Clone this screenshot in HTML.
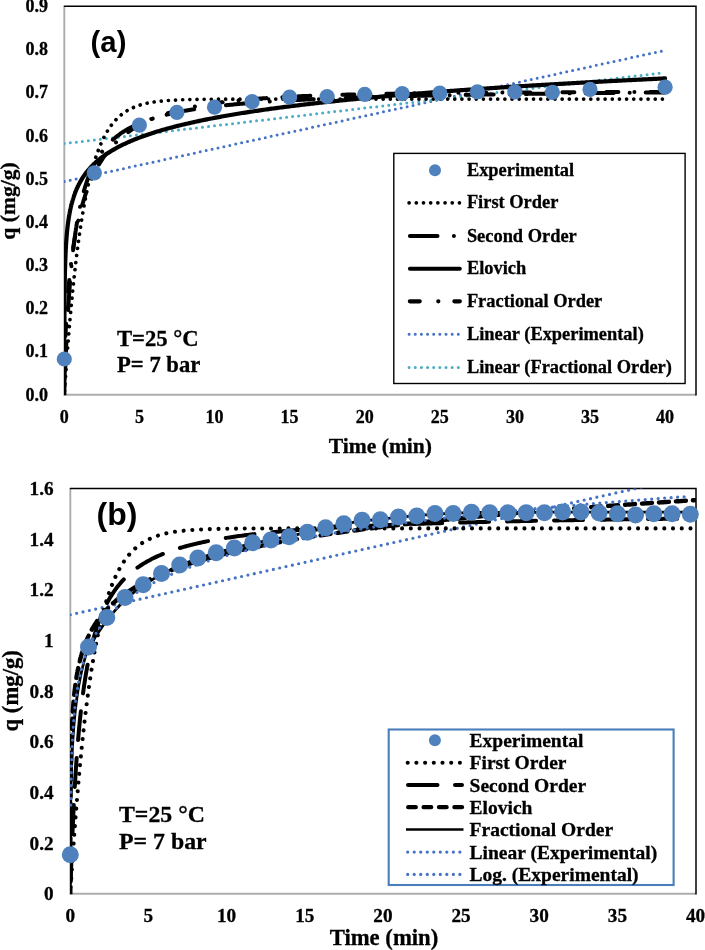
<!DOCTYPE html>
<html lang="en"><head><meta charset="utf-8"><title>Adsorption kinetics</title>
<style>
html,body{margin:0;padding:0;background:#fff;}
body{width:705px;height:950px;overflow:hidden;}
svg{display:block;}
text{font-family:"Liberation Serif",serif;font-weight:bold;fill:#000;stroke:#000;stroke-width:.3px;}
.tk{font-size:18px;}
.tkb{font-size:19.2px;}
.ti{font-size:21.6px;}
.tib{font-size:22.7px;}
.lab{font-family:"Liberation Sans",sans-serif;font-size:28.8px;font-weight:bold;stroke:none;}
.cond{font-size:22.65px;}
.condb{font-size:23.8px;}
.lg{font-size:18.4px;}
.lgb{font-size:19.5px;}
.k{fill:none;stroke:#000;stroke-linejoin:round;}
.rc{stroke-linecap:round;}
.dot{fill:none;stroke:#000;stroke-width:3.7;stroke-linecap:round;stroke-dasharray:0.01 7.15;stroke-linejoin:round;}
.bd{fill:none;stroke-width:3.0;stroke-linecap:round;}
.bb{stroke-width:3.2;}
</style></head>
<body>
<svg width="705" height="950" viewBox="0 0 705 950">
<rect width="705" height="950" fill="#fff"/>
<g id="chartA">
<clipPath id="clipA"><rect x="64.0" y="6.3" width="631.7" height="389.0"/></clipPath>
<path d="M64.3,6.3 V394.8 H696.0" fill="none" stroke="#adadad" stroke-width="1.9"/>
<path d="M63.8,6.3 H696.0 V395.40000000000003" fill="none" stroke="#000" stroke-width="1.5"/>
<g clip-path="url(#clipA)">
<path d="M64.30,181.56h.01 M70.21,180.27h.01 M76.12,178.97h.01 M82.03,177.68h.01 M87.94,176.39h.01 M93.85,175.10h.01 M99.76,173.81h.01 M105.67,172.52h.01 M111.59,171.23h.01 M117.50,169.94h.01 M123.41,168.65h.01 M129.32,167.36h.01 M135.23,166.06h.01 M141.14,164.77h.01 M147.05,163.48h.01 M152.96,162.19h.01 M158.87,160.90h.01 M164.78,159.61h.01 M170.69,158.32h.01 M176.60,157.03h.01 M182.51,155.74h.01 M188.42,154.45h.01 M194.33,153.15h.01 M200.24,151.86h.01 M206.16,150.57h.01 M212.07,149.28h.01 M217.98,147.99h.01 M223.89,146.70h.01 M229.80,145.41h.01 M235.71,144.12h.01 M241.62,142.83h.01 M247.53,141.54h.01 M253.44,140.24h.01 M259.35,138.95h.01 M265.26,137.66h.01 M271.17,136.37h.01 M277.08,135.08h.01 M282.99,133.79h.01 M288.90,132.50h.01 M294.82,131.21h.01 M300.73,129.92h.01 M306.64,128.63h.01 M312.55,127.33h.01 M318.46,126.04h.01 M324.37,124.75h.01 M330.28,123.46h.01 M336.19,122.17h.01 M342.10,120.88h.01 M348.01,119.59h.01 M353.92,118.30h.01 M359.83,117.01h.01 M365.74,115.72h.01 M371.65,114.42h.01 M377.56,113.13h.01 M383.48,111.84h.01 M389.39,110.55h.01 M395.30,109.26h.01 M401.21,107.97h.01 M407.12,106.68h.01 M413.03,105.39h.01 M418.94,104.10h.01 M424.85,102.81h.01 M430.76,101.51h.01 M436.67,100.22h.01 M442.58,98.93h.01 M448.49,97.64h.01 M454.40,96.35h.01 M460.31,95.06h.01 M466.22,93.77h.01 M472.13,92.48h.01 M478.05,91.19h.01 M483.96,89.90h.01 M489.87,88.60h.01 M495.78,87.31h.01 M501.69,86.02h.01 M507.60,84.73h.01 M513.51,83.44h.01 M519.42,82.15h.01 M525.33,80.86h.01 M531.24,79.57h.01 M537.15,78.28h.01 M543.06,76.99h.01 M548.97,75.69h.01 M554.88,74.40h.01 M560.79,73.11h.01 M566.71,71.82h.01 M572.62,70.53h.01 M578.53,69.24h.01 M584.44,67.95h.01 M590.35,66.66h.01 M596.26,65.37h.01 M602.17,64.08h.01 M608.08,62.78h.01 M613.99,61.49h.01 M619.90,60.20h.01 M625.81,58.91h.01 M631.72,57.62h.01 M637.63,56.33h.01 M643.54,55.04h.01 M649.45,53.75h.01 M655.37,52.46h.01 M661.28,51.17h.01" class="bd" stroke="#4472c4"/>
<path d="M64.30,143.57h.01 M70.31,142.86h.01 M76.32,142.15h.01 M82.32,141.44h.01 M88.33,140.73h.01 M94.34,140.02h.01 M100.35,139.31h.01 M106.36,138.60h.01 M112.37,137.89h.01 M118.37,137.18h.01 M124.38,136.47h.01 M130.39,135.76h.01 M136.40,135.05h.01 M142.41,134.34h.01 M148.41,133.63h.01 M154.42,132.92h.01 M160.43,132.21h.01 M166.44,131.50h.01 M172.45,130.79h.01 M178.46,130.08h.01 M184.46,129.37h.01 M190.47,128.66h.01 M196.48,127.95h.01 M202.49,127.24h.01 M208.50,126.53h.01 M214.50,125.82h.01 M220.51,125.11h.01 M226.52,124.40h.01 M232.53,123.69h.01 M238.54,122.98h.01 M244.55,122.27h.01 M250.55,121.56h.01 M256.56,120.85h.01 M262.57,120.14h.01 M268.58,119.43h.01 M274.59,118.72h.01 M280.59,118.01h.01 M286.60,117.30h.01 M292.61,116.59h.01 M298.62,115.88h.01 M304.63,115.17h.01 M310.64,114.46h.01 M316.64,113.75h.01 M322.65,113.04h.01 M328.66,112.33h.01 M334.67,111.61h.01 M340.68,110.90h.01 M346.68,110.19h.01 M352.69,109.48h.01 M358.70,108.77h.01 M364.71,108.06h.01 M370.72,107.35h.01 M376.73,106.64h.01 M382.73,105.93h.01 M388.74,105.22h.01 M394.75,104.51h.01 M400.76,103.80h.01 M406.77,103.09h.01 M412.77,102.38h.01 M418.78,101.67h.01 M424.79,100.96h.01 M430.80,100.25h.01 M436.81,99.54h.01 M442.82,98.83h.01 M448.82,98.12h.01 M454.83,97.41h.01 M460.84,96.70h.01 M466.85,95.99h.01 M472.86,95.28h.01 M478.86,94.57h.01 M484.87,93.86h.01 M490.88,93.15h.01 M496.89,92.44h.01 M502.90,91.73h.01 M508.91,91.02h.01 M514.91,90.31h.01 M520.92,89.60h.01 M526.93,88.89h.01 M532.94,88.18h.01 M538.95,87.47h.01 M544.95,86.76h.01 M550.96,86.05h.01 M556.97,85.34h.01 M562.98,84.63h.01 M568.99,83.92h.01 M575.00,83.21h.01 M581.00,82.50h.01 M587.01,81.79h.01 M593.02,81.08h.01 M599.03,80.37h.01 M605.04,79.66h.01 M611.04,78.95h.01 M617.05,78.24h.01 M623.06,77.53h.01 M629.07,76.82h.01 M635.08,76.11h.01 M641.09,75.40h.01 M647.09,74.69h.01 M653.10,73.98h.01 M659.11,73.27h.01" class="bd" stroke="#4bacc6"/>
<path d="M64.30,394.80 L64.38,393.65 L64.45,392.51 L64.53,391.37 L64.60,390.23 L64.68,389.10 L64.75,387.97 L64.83,386.85 L64.90,385.73 L64.98,384.62 L65.05,383.51 L65.13,382.40 L65.21,381.30 L65.28,380.20 L65.36,379.11 L65.43,378.02 L65.51,376.94 L65.58,375.86 L65.66,374.78 L65.73,373.71 L65.81,372.64 L65.89,371.58 L65.96,370.52 L66.04,369.47 L66.11,368.41 L66.19,367.37 L66.26,366.33 L66.34,365.29 L66.41,364.25 L66.49,363.22 L66.56,362.19 L66.64,361.17 L66.72,360.15 L66.79,359.14 L66.87,358.13 L66.94,357.12 L67.02,356.12 L67.09,355.12 L67.17,354.12 L67.24,353.13 L67.32,352.15 L67.39,351.16 L67.47,350.18 L67.55,349.21 L67.62,348.23 L67.70,347.27 L67.77,346.30 L67.85,345.34 L67.92,344.38 L68.00,343.43 L68.07,342.48 L68.15,341.53 L68.22,340.59 L68.30,339.65 L68.38,338.72 L68.45,337.79 L68.53,336.86 L68.60,335.94 L68.68,335.02 L68.75,334.10 L68.83,333.19 L68.90,332.28 L68.98,331.37 L69.06,330.47 L69.13,329.57 L69.21,328.67 L69.28,327.78 L69.36,326.89 L69.43,326.00 L69.51,325.12 L69.58,324.24 L69.66,323.37 L69.73,322.50 L69.81,321.63 L69.89,320.76 L69.96,319.90 L70.04,319.04 L70.11,318.19 L70.19,317.34 L70.26,316.49 L70.34,315.64 L70.41,314.80 L70.49,313.96 L70.56,313.13 L70.64,312.30 L70.72,311.47 L70.79,310.64 L70.87,309.82 L70.94,309.00 L71.02,308.19 L71.09,307.37 L71.17,306.56 L71.24,305.76 L71.32,304.95 L71.39,304.15 L71.47,303.36 L71.55,302.56 L71.62,301.77 L71.70,300.99 L71.77,300.20 L71.85,299.42 L71.92,298.64 L72.00,297.86 L72.07,297.09 L72.15,296.32 L72.23,295.56 L72.30,294.79 L72.38,294.03 L72.45,293.27 L72.53,292.52 L72.60,291.77 L72.68,291.02 L72.75,290.27 L72.83,289.53 L72.90,288.79 L72.98,288.05 L73.06,287.32 L73.13,286.59 L73.21,285.86 L73.28,285.13 L73.36,284.41 L73.43,283.69 L73.51,282.97 L73.58,282.26 L73.66,281.54 L73.73,280.84 L73.81,280.13 L73.89,279.43 L73.96,278.72 L74.04,278.03 L74.11,277.33 L74.19,276.64 L74.26,275.95 L74.34,275.26 L74.41,274.58 L74.49,273.89 L74.56,273.22 L74.64,272.54 L74.72,271.86 L74.79,271.19 L74.87,270.52 L74.94,269.86 L75.02,269.19 L75.09,268.53 L75.17,267.87 L75.24,267.22 L75.32,266.56 L75.40,265.91 L75.47,265.27 L75.55,264.62 L75.62,263.98 L75.70,263.34 L75.77,262.70 L75.85,262.06 L75.92,261.43 L76.00,260.80 L76.07,260.17 L76.15,259.54 L76.23,258.92 L76.30,258.30 L76.38,257.68 L76.45,257.06 L76.53,256.45 L76.60,255.84 L76.68,255.23 L76.75,254.62 L76.83,254.02 L76.90,253.41 L76.98,252.81 L77.06,252.22 L77.13,251.62 L77.21,251.03 L77.28,250.44 L77.36,249.85 L77.43,249.26 L77.51,248.68 L77.58,248.10 L77.66,247.52 L77.73,246.94 L77.81,246.37 L77.89,245.80 L77.96,245.23 L78.04,244.66 L78.11,244.09 L78.19,243.53 L78.26,242.97 L78.34,242.41 L78.41,241.85 L78.49,241.30 L78.57,240.74 L78.64,240.19 L78.72,239.65 L78.79,239.10 L78.87,238.56 L78.94,238.01 L79.02,237.47 L79.09,236.94 L79.17,236.40 L79.24,235.87 L79.32,235.33 L80.79,225.40 L82.26,216.18 L83.72,207.64 L85.19,199.72 L86.66,192.38 L88.13,185.58 L89.60,179.27 L91.06,173.42 L92.53,168.00 L94.00,162.98 L95.47,158.32 L96.94,154.00 L98.41,149.99 L99.87,146.28 L101.34,142.84 L102.81,139.65 L104.28,136.69 L105.75,133.95 L107.21,131.41 L108.68,129.05 L110.15,126.87 L111.62,124.84 L113.09,122.96 L114.55,121.22 L116.02,119.61 L117.49,118.11 L118.96,116.73 L120.43,115.44 L121.90,114.25 L123.36,113.15 L124.83,112.12 L126.30,111.17 L127.77,110.29 L129.24,109.48 L130.70,108.72 L132.17,108.02 L133.64,107.37 L135.11,106.77 L136.58,106.21 L138.04,105.69 L139.51,105.21 L140.98,104.76 L142.45,104.35 L143.92,103.97 L145.39,103.61 L146.85,103.29 L148.32,102.98 L149.79,102.70 L151.26,102.44 L152.73,102.19 L154.19,101.97 L155.66,101.76 L157.13,101.57 L158.60,101.39 L160.07,101.22 L161.53,101.07 L163.00,100.92 L164.47,100.79 L165.94,100.67 L167.41,100.55 L168.88,100.45 L170.34,100.35 L171.81,100.26 L173.28,100.18 L174.75,100.10 L176.22,100.03 L177.68,99.96 L179.15,99.90 L180.62,99.84 L182.09,99.79 L183.56,99.74 L185.02,99.69 L186.49,99.65 L187.96,99.61 L189.43,99.57 L190.90,99.54 L192.37,99.51 L193.83,99.48 L195.30,99.45 L196.77,99.43 L198.24,99.40 L199.71,99.38 L201.17,99.36 L202.64,99.34 L204.11,99.33 L205.58,99.31 L207.05,99.30 L208.51,99.28 L209.98,99.27 L211.45,99.26 L212.92,99.25 L214.39,99.24 L215.86,99.23 L217.32,99.22 L218.79,99.21 L220.26,99.20 L221.73,99.20 L223.20,99.19 L224.66,99.18 L226.13,99.18 L227.60,99.17 L229.07,99.17 L230.54,99.16 L232.00,99.16 L233.47,99.16 L234.94,99.15 L236.41,99.15 L237.88,99.15 L239.35,99.14 L240.81,99.14 L242.28,99.14 L243.75,99.14 L245.22,99.13 L246.69,99.13 L248.15,99.13 L249.62,99.13 L251.09,99.13 L252.56,99.13 L254.03,99.12 L255.49,99.12 L256.96,99.12 L258.43,99.12 L259.90,99.12 L261.37,99.12 L262.84,99.12 L264.30,99.12 L265.77,99.12 L267.24,99.12 L268.71,99.12 L270.18,99.12 L271.64,99.12 L273.11,99.11 L274.58,99.11 L276.05,99.11 L277.52,99.11 L278.98,99.11 L280.45,99.11 L281.92,99.11 L283.39,99.11 L284.86,99.11 L286.32,99.11 L287.79,99.11 L289.26,99.11 L290.73,99.11 L292.20,99.11 L293.67,99.11 L295.13,99.11 L296.60,99.11 L298.07,99.11 L299.54,99.11 L301.01,99.11 L302.47,99.11 L303.94,99.11 L305.41,99.11 L306.88,99.11 L308.35,99.11 L309.81,99.11 L311.28,99.11 L312.75,99.11 L314.22,99.11 L315.69,99.11 L317.16,99.11 L318.62,99.11 L320.09,99.11 L321.56,99.11 L323.03,99.11 L324.50,99.11 L325.96,99.11 L327.43,99.11 L328.90,99.11 L330.37,99.11 L331.84,99.11 L333.30,99.11 L334.77,99.11 L336.24,99.11 L337.71,99.11 L339.18,99.11 L340.65,99.11 L342.11,99.11 L343.58,99.11 L345.05,99.11 L346.52,99.11 L347.99,99.11 L349.45,99.11 L350.92,99.11 L352.39,99.11 L353.86,99.11 L355.33,99.11 L356.79,99.11 L358.26,99.11 L359.73,99.11 L361.20,99.11 L362.67,99.11 L364.14,99.11 L365.60,99.11 L367.07,99.11 L368.54,99.11 L370.01,99.11 L371.48,99.11 L372.94,99.11 L374.41,99.11 L375.88,99.11 L377.35,99.11 L378.82,99.11 L380.28,99.11 L381.75,99.11 L383.22,99.11 L384.69,99.11 L386.16,99.11 L387.63,99.11 L389.09,99.11 L390.56,99.11 L392.03,99.11 L393.50,99.11 L394.97,99.11 L396.43,99.11 L397.90,99.11 L399.37,99.11 L400.84,99.11 L402.31,99.11 L403.77,99.11 L405.24,99.11 L406.71,99.11 L408.18,99.11 L409.65,99.11 L411.12,99.11 L412.58,99.11 L414.05,99.11 L415.52,99.11 L416.99,99.11 L418.46,99.11 L419.92,99.11 L421.39,99.11 L422.86,99.11 L424.33,99.11 L425.80,99.11 L427.26,99.11 L428.73,99.11 L430.20,99.11 L431.67,99.11 L433.14,99.11 L434.61,99.11 L436.07,99.11 L437.54,99.11 L439.01,99.11 L440.48,99.11 L441.95,99.11 L443.41,99.11 L444.88,99.11 L446.35,99.11 L447.82,99.11 L449.29,99.11 L450.75,99.11 L452.22,99.11 L453.69,99.11 L455.16,99.11 L456.63,99.11 L458.10,99.11 L459.56,99.11 L461.03,99.11 L462.50,99.11 L463.97,99.11 L465.44,99.11 L466.90,99.11 L468.37,99.11 L469.84,99.11 L471.31,99.11 L472.78,99.11 L474.24,99.11 L475.71,99.11 L477.18,99.11 L478.65,99.11 L480.12,99.11 L481.58,99.11 L483.05,99.11 L484.52,99.11 L485.99,99.11 L487.46,99.11 L488.93,99.11 L490.39,99.11 L491.86,99.11 L493.33,99.11 L494.80,99.11 L496.27,99.11 L497.73,99.11 L499.20,99.11 L500.67,99.11 L502.14,99.11 L503.61,99.11 L505.07,99.11 L506.54,99.11 L508.01,99.11 L509.48,99.11 L510.95,99.11 L512.42,99.11 L513.88,99.11 L515.35,99.11 L516.82,99.11 L518.29,99.11 L519.76,99.11 L521.22,99.11 L522.69,99.11 L524.16,99.11 L525.63,99.11 L527.10,99.11 L528.56,99.11 L530.03,99.11 L531.50,99.11 L532.97,99.11 L534.44,99.11 L535.91,99.11 L537.37,99.11 L538.84,99.11 L540.31,99.11 L541.78,99.11 L543.25,99.11 L544.71,99.11 L546.18,99.11 L547.65,99.11 L549.12,99.11 L550.59,99.11 L552.05,99.11 L553.52,99.11 L554.99,99.11 L556.46,99.11 L557.93,99.11 L559.40,99.11 L560.86,99.11 L562.33,99.11 L563.80,99.11 L565.27,99.11 L566.74,99.11 L568.20,99.11 L569.67,99.11 L571.14,99.11 L572.61,99.11 L574.08,99.11 L575.54,99.11 L577.01,99.11 L578.48,99.11 L579.95,99.11 L581.42,99.11 L582.89,99.11 L584.35,99.11 L585.82,99.11 L587.29,99.11 L588.76,99.11 L590.23,99.11 L591.69,99.11 L593.16,99.11 L594.63,99.11 L596.10,99.11 L597.57,99.11 L599.03,99.11 L600.50,99.11 L601.97,99.11 L603.44,99.11 L604.91,99.11 L606.38,99.11 L607.84,99.11 L609.31,99.11 L610.78,99.11 L612.25,99.11 L613.72,99.11 L615.18,99.11 L616.65,99.11 L618.12,99.11 L619.59,99.11 L621.06,99.11 L622.52,99.11 L623.99,99.11 L625.46,99.11 L626.93,99.11 L628.40,99.11 L629.87,99.11 L631.33,99.11 L632.80,99.11 L634.27,99.11 L635.74,99.11 L637.21,99.11 L638.67,99.11 L640.14,99.11 L641.61,99.11 L643.08,99.11 L644.55,99.11 L646.01,99.11 L647.48,99.11 L648.95,99.11 L650.42,99.11 L651.89,99.11 L653.36,99.11 L654.82,99.11 L656.29,99.11 L657.76,99.11 L659.23,99.11 L660.70,99.11 L662.16,99.11 L663.63,99.11 L665.10,99.11" class="dot" stroke-dashoffset="3.33"/>
<path d="M64.30,394.80 L64.38,392.49 L64.45,390.21 L64.53,387.97 L64.60,385.75 L64.68,383.58 L64.75,381.43 L64.83,379.31 L64.90,377.23 L64.98,375.17 L65.05,373.14 L65.13,371.14 L65.21,369.17 L65.28,367.23 L65.36,365.31 L65.43,363.42 L65.51,361.55 L65.58,359.71 L65.66,357.90 L65.73,356.10 L65.81,354.34 L65.89,352.59 L65.96,350.87 L66.04,349.17 L66.11,347.49 L66.19,345.83 L66.26,344.19 L66.34,342.58 L66.41,340.98 L66.49,339.41 L66.56,337.85 L66.64,336.31 L66.72,334.80 L66.79,333.30 L66.87,331.81 L66.94,330.35 L67.02,328.90 L67.09,327.47 L67.17,326.06 L67.24,324.66 L67.32,323.28 L67.39,321.92 L67.47,320.57 L67.55,319.24 L67.62,317.92 L67.70,316.62 L67.77,315.33 L67.85,314.06 L67.92,312.80 L68.00,311.55 L68.07,310.32 L68.15,309.10 L68.22,307.90 L68.30,306.70 L68.38,305.52 L68.45,304.36 L68.53,303.20 L68.60,302.06 L68.68,300.93 L68.75,299.81 L68.83,298.71 L68.90,297.61 L68.98,296.53 L69.06,295.45 L69.13,294.39 L69.21,293.34 L69.28,292.30 L69.36,291.27 L69.43,290.25 L69.51,289.24 L69.58,288.24 L69.66,287.25 L69.73,286.27 L69.81,285.30 L69.89,284.34 L69.96,283.39 L70.04,282.45 L70.11,281.51 L70.19,280.59 L70.26,279.67 L70.34,278.77 L70.41,277.87 L70.49,276.98 L70.56,276.09 L70.64,275.22 L70.72,274.36 L70.79,273.50 L70.87,272.65 L70.94,271.81 L71.02,270.97 L71.09,270.14 L71.17,269.32 L71.24,268.51 L71.32,267.71 L71.39,266.91 L71.47,266.12 L71.55,265.33 L71.62,264.56 L71.70,263.79 L71.77,263.02 L71.85,262.26 L71.92,261.51 L72.00,260.77 L72.07,260.03 L72.15,259.30 L72.23,258.57 L72.30,257.86 L72.38,257.14 L72.45,256.43 L72.53,255.73 L72.60,255.04 L72.68,254.35 L72.75,253.66 L72.83,252.98 L72.90,252.31 L72.98,251.64 L73.06,250.98 L73.13,250.32 L73.21,249.67 L73.28,249.02 L73.36,248.38 L73.43,247.75 L73.51,247.12 L73.58,246.49 L73.66,245.87 L73.73,245.25 L73.81,244.64 L73.89,244.03 L73.96,243.43 L74.04,242.83 L74.11,242.24 L74.19,241.65 L74.26,241.06 L74.34,240.48 L74.41,239.91 L74.49,239.34 L74.56,238.77 L74.64,238.21 L74.72,237.65 L74.79,237.09 L74.87,236.54 L74.94,236.00 L75.02,235.46 L75.09,234.92 L75.17,234.38 L75.24,233.85 L75.32,233.32 L75.40,232.80 L75.47,232.28 L75.55,231.77 L75.62,231.25 L75.70,230.75 L75.77,230.24 L75.85,229.74 L75.92,229.24 L76.00,228.75 L76.07,228.26 L76.15,227.77 L76.23,227.29 L76.30,226.80 L76.38,226.33 L76.45,225.85 L76.53,225.38 L76.60,224.91 L76.68,224.45 L76.75,223.99 L76.83,223.53 L76.90,223.07 L76.98,222.62 L77.06,222.17 L77.13,221.73 L77.21,221.28 L77.28,220.84 L77.36,220.40 L77.43,219.97 L77.51,219.54 L77.58,219.11 L77.66,218.68 L77.73,218.26 L77.81,217.84 L77.89,217.42 L77.96,217.00 L78.04,216.59 L78.11,216.18 L78.19,215.77 L78.26,215.37 L78.34,214.97 L78.41,214.57 L78.49,214.17 L78.57,213.77 L78.64,213.38 L78.72,212.99 L78.79,212.60 L78.87,212.22 L78.94,211.84 L79.02,211.46 L79.09,211.08 L79.17,210.70 L79.24,210.33 L79.32,209.96 L80.79,203.15 L82.26,197.07 L83.72,191.59 L85.19,186.63 L86.66,182.12 L88.13,178.01 L89.60,174.23 L91.06,170.76 L92.53,167.56 L94.00,164.59 L95.47,161.84 L96.94,159.27 L98.41,156.88 L99.87,154.64 L101.34,152.54 L102.81,150.56 L104.28,148.71 L105.75,146.96 L107.21,145.30 L108.68,143.74 L110.15,142.26 L111.62,140.85 L113.09,139.52 L114.55,138.25 L116.02,137.04 L117.49,135.88 L118.96,134.78 L120.43,133.73 L121.90,132.72 L123.36,131.76 L124.83,130.83 L126.30,129.95 L127.77,129.10 L129.24,128.28 L130.70,127.49 L132.17,126.74 L133.64,126.01 L135.11,125.31 L136.58,124.63 L138.04,123.98 L139.51,123.35 L140.98,122.74 L142.45,122.15 L143.92,121.58 L145.39,121.03 L146.85,120.50 L148.32,119.98 L149.79,119.48 L151.26,118.99 L152.73,118.52 L154.19,118.07 L155.66,117.62 L157.13,117.19 L158.60,116.77 L160.07,116.36 L161.53,115.97 L163.00,115.58 L164.47,115.20 L165.94,114.84 L167.41,114.48 L168.88,114.14 L170.34,113.80 L171.81,113.47 L173.28,113.15 L174.75,112.83 L176.22,112.53 L177.68,112.23 L179.15,111.94 L180.62,111.65 L182.09,111.37 L183.56,111.10 L185.02,110.83 L186.49,110.57 L187.96,110.32 L189.43,110.07 L190.90,109.83 L192.37,109.59 L193.83,109.35 L195.30,109.13 L196.77,108.90 L198.24,108.68 L199.71,108.47 L201.17,108.26 L202.64,108.05 L204.11,107.85 L205.58,107.65 L207.05,107.46 L208.51,107.26 L209.98,107.08 L211.45,106.89 L212.92,106.71 L214.39,106.54 L215.86,106.36 L217.32,106.19 L218.79,106.02 L220.26,105.86 L221.73,105.70 L223.20,105.54 L224.66,105.38 L226.13,105.23 L227.60,105.08 L229.07,104.93 L230.54,104.78 L232.00,104.64 L233.47,104.50 L234.94,104.36 L236.41,104.22 L237.88,104.09 L239.35,103.96 L240.81,103.83 L242.28,103.70 L243.75,103.57 L245.22,103.45 L246.69,103.32 L248.15,103.20 L249.62,103.09 L251.09,102.97 L252.56,102.85 L254.03,102.74 L255.49,102.63 L256.96,102.52 L258.43,102.41 L259.90,102.30 L261.37,102.20 L262.84,102.09 L264.30,101.99 L265.77,101.89 L267.24,101.79 L268.71,101.69 L270.18,101.59 L271.64,101.50 L273.11,101.40 L274.58,101.31 L276.05,101.22 L277.52,101.13 L278.98,101.04 L280.45,100.95 L281.92,100.86 L283.39,100.77 L284.86,100.69 L286.32,100.61 L287.79,100.52 L289.26,100.44 L290.73,100.36 L292.20,100.28 L293.67,100.20 L295.13,100.12 L296.60,100.05 L298.07,99.97 L299.54,99.89 L301.01,99.82 L302.47,99.75 L303.94,99.67 L305.41,99.60 L306.88,99.53 L308.35,99.46 L309.81,99.39 L311.28,99.32 L312.75,99.26 L314.22,99.19 L315.69,99.12 L317.16,99.06 L318.62,98.99 L320.09,98.93 L321.56,98.87 L323.03,98.80 L324.50,98.74 L325.96,98.68 L327.43,98.62 L328.90,98.56 L330.37,98.50 L331.84,98.44 L333.30,98.38 L334.77,98.33 L336.24,98.27 L337.71,98.21 L339.18,98.16 L340.65,98.10 L342.11,98.05 L343.58,97.99 L345.05,97.94 L346.52,97.89 L347.99,97.83 L349.45,97.78 L350.92,97.73 L352.39,97.68 L353.86,97.63 L355.33,97.58 L356.79,97.53 L358.26,97.48 L359.73,97.43 L361.20,97.39 L362.67,97.34 L364.14,97.29 L365.60,97.24 L367.07,97.20 L368.54,97.15 L370.01,97.11 L371.48,97.06 L372.94,97.02 L374.41,96.97 L375.88,96.93 L377.35,96.89 L378.82,96.84 L380.28,96.80 L381.75,96.76 L383.22,96.72 L384.69,96.68 L386.16,96.64 L387.63,96.59 L389.09,96.55 L390.56,96.51 L392.03,96.48 L393.50,96.44 L394.97,96.40 L396.43,96.36 L397.90,96.32 L399.37,96.28 L400.84,96.24 L402.31,96.21 L403.77,96.17 L405.24,96.13 L406.71,96.10 L408.18,96.06 L409.65,96.03 L411.12,95.99 L412.58,95.96 L414.05,95.92 L415.52,95.89 L416.99,95.85 L418.46,95.82 L419.92,95.78 L421.39,95.75 L422.86,95.72 L424.33,95.68 L425.80,95.65 L427.26,95.62 L428.73,95.59 L430.20,95.55 L431.67,95.52 L433.14,95.49 L434.61,95.46 L436.07,95.43 L437.54,95.40 L439.01,95.37 L440.48,95.34 L441.95,95.31 L443.41,95.28 L444.88,95.25 L446.35,95.22 L447.82,95.19 L449.29,95.16 L450.75,95.13 L452.22,95.10 L453.69,95.08 L455.16,95.05 L456.63,95.02 L458.10,94.99 L459.56,94.96 L461.03,94.94 L462.50,94.91 L463.97,94.88 L465.44,94.86 L466.90,94.83 L468.37,94.80 L469.84,94.78 L471.31,94.75 L472.78,94.73 L474.24,94.70 L475.71,94.67 L477.18,94.65 L478.65,94.62 L480.12,94.60 L481.58,94.58 L483.05,94.55 L484.52,94.53 L485.99,94.50 L487.46,94.48 L488.93,94.45 L490.39,94.43 L491.86,94.41 L493.33,94.38 L494.80,94.36 L496.27,94.34 L497.73,94.31 L499.20,94.29 L500.67,94.27 L502.14,94.25 L503.61,94.22 L505.07,94.20 L506.54,94.18 L508.01,94.16 L509.48,94.14 L510.95,94.11 L512.42,94.09 L513.88,94.07 L515.35,94.05 L516.82,94.03 L518.29,94.01 L519.76,93.99 L521.22,93.97 L522.69,93.95 L524.16,93.93 L525.63,93.91 L527.10,93.89 L528.56,93.87 L530.03,93.85 L531.50,93.83 L532.97,93.81 L534.44,93.79 L535.91,93.77 L537.37,93.75 L538.84,93.73 L540.31,93.71 L541.78,93.69 L543.25,93.67 L544.71,93.65 L546.18,93.63 L547.65,93.62 L549.12,93.60 L550.59,93.58 L552.05,93.56 L553.52,93.54 L554.99,93.52 L556.46,93.51 L557.93,93.49 L559.40,93.47 L560.86,93.45 L562.33,93.44 L563.80,93.42 L565.27,93.40 L566.74,93.38 L568.20,93.37 L569.67,93.35 L571.14,93.33 L572.61,93.32 L574.08,93.30 L575.54,93.28 L577.01,93.27 L578.48,93.25 L579.95,93.23 L581.42,93.22 L582.89,93.20 L584.35,93.19 L585.82,93.17 L587.29,93.15 L588.76,93.14 L590.23,93.12 L591.69,93.11 L593.16,93.09 L594.63,93.08 L596.10,93.06 L597.57,93.05 L599.03,93.03 L600.50,93.02 L601.97,93.00 L603.44,92.99 L604.91,92.97 L606.38,92.96 L607.84,92.94 L609.31,92.93 L610.78,92.91 L612.25,92.90 L613.72,92.88 L615.18,92.87 L616.65,92.85 L618.12,92.84 L619.59,92.83 L621.06,92.81 L622.52,92.80 L623.99,92.78 L625.46,92.77 L626.93,92.76 L628.40,92.74 L629.87,92.73 L631.33,92.72 L632.80,92.70 L634.27,92.69 L635.74,92.68 L637.21,92.66 L638.67,92.65 L640.14,92.64 L641.61,92.62 L643.08,92.61 L644.55,92.60 L646.01,92.58 L647.48,92.57 L648.95,92.56 L650.42,92.55 L651.89,92.53 L653.36,92.52 L654.82,92.51 L656.29,92.50 L657.76,92.48 L659.23,92.47 L660.70,92.46 L662.16,92.45 L663.63,92.43 L665.10,92.42" class="k rc" stroke-width="4" stroke-dasharray="28 16 0.01 16" stroke-dashoffset="35.20"/>
<path d="M64.30,394.80 L64.38,381.54 L64.45,375.39 L64.53,370.60 L64.60,366.54 L64.68,362.95 L64.75,359.70 L64.83,356.71 L64.90,353.94 L64.98,351.34 L65.05,348.89 L65.13,346.56 L65.21,344.34 L65.28,342.22 L65.36,340.19 L65.43,338.24 L65.51,336.35 L65.58,334.53 L65.66,332.77 L65.73,331.07 L65.81,329.41 L65.89,327.80 L65.96,326.24 L66.04,324.71 L66.11,323.23 L66.19,321.77 L66.26,320.36 L66.34,318.97 L66.41,317.62 L66.49,316.29 L66.56,315.00 L66.64,313.72 L66.72,312.48 L66.79,311.25 L66.87,310.05 L66.94,308.87 L67.02,307.71 L67.09,306.58 L67.17,305.46 L67.24,304.36 L67.32,303.27 L67.39,302.21 L67.47,301.16 L67.55,300.12 L67.62,299.11 L67.70,298.10 L67.77,297.11 L67.85,296.14 L67.92,295.18 L68.00,294.23 L68.07,293.30 L68.15,292.37 L68.22,291.46 L68.30,290.56 L68.38,289.68 L68.45,288.80 L68.53,287.93 L68.60,287.08 L68.68,286.23 L68.75,285.40 L68.83,284.57 L68.90,283.75 L68.98,282.95 L69.06,282.15 L69.13,281.36 L69.21,280.58 L69.28,279.81 L69.36,279.04 L69.43,278.29 L69.51,277.54 L69.58,276.80 L69.66,276.07 L69.73,275.34 L69.81,274.62 L69.89,273.91 L69.96,273.21 L70.04,272.51 L70.11,271.82 L70.19,271.13 L70.26,270.45 L70.34,269.78 L70.41,269.12 L70.49,268.46 L70.56,267.80 L70.64,267.15 L70.72,266.51 L70.79,265.88 L70.87,265.24 L70.94,264.62 L71.02,264.00 L71.09,263.38 L71.17,262.77 L71.24,262.17 L71.32,261.57 L71.39,260.97 L71.47,260.38 L71.55,259.80 L71.62,259.22 L71.70,258.64 L71.77,258.07 L71.85,257.50 L71.92,256.94 L72.00,256.38 L72.07,255.83 L72.15,255.28 L72.23,254.73 L72.30,254.19 L72.38,253.65 L72.45,253.12 L72.53,252.59 L72.60,252.06 L72.68,251.54 L72.75,251.02 L72.83,250.50 L72.90,249.99 L72.98,249.48 L73.06,248.98 L73.13,248.48 L73.21,247.98 L73.28,247.49 L73.36,247.00 L73.43,246.51 L73.51,246.03 L73.58,245.55 L73.66,245.07 L73.73,244.59 L73.81,244.12 L73.89,243.65 L73.96,243.19 L74.04,242.73 L74.11,242.27 L74.19,241.81 L74.26,241.36 L74.34,240.91 L74.41,240.46 L74.49,240.01 L74.56,239.57 L74.64,239.13 L74.72,238.70 L74.79,238.26 L74.87,237.83 L74.94,237.40 L75.02,236.97 L75.09,236.55 L75.17,236.13 L75.24,235.71 L75.32,235.29 L75.40,234.88 L75.47,234.47 L75.55,234.06 L75.62,233.65 L75.70,233.25 L75.77,232.85 L75.85,232.45 L75.92,232.05 L76.00,231.65 L76.07,231.26 L76.15,230.87 L76.23,230.48 L76.30,230.10 L76.38,229.71 L76.45,229.33 L76.53,228.95 L76.60,228.57 L76.68,228.19 L76.75,227.82 L76.83,227.45 L76.90,227.08 L76.98,226.71 L77.06,226.34 L77.13,225.98 L77.21,225.62 L77.28,225.26 L77.36,224.90 L77.43,224.54 L77.51,224.19 L77.58,223.83 L77.66,223.48 L77.73,223.13 L77.81,222.79 L77.89,222.44 L77.96,222.10 L78.04,221.75 L78.11,221.41 L78.19,221.07 L78.26,220.74 L78.34,220.40 L78.41,220.07 L78.49,219.73 L78.57,219.40 L78.64,219.07 L78.72,218.75 L78.79,218.42 L78.87,218.10 L78.94,217.77 L79.02,217.45 L79.09,217.13 L79.17,216.81 L79.24,216.50 L79.32,216.18 L80.79,210.33 L82.26,204.96 L83.72,200.01 L85.19,195.43 L86.66,191.17 L88.13,187.20 L89.60,183.49 L91.06,180.00 L92.53,176.73 L94.00,173.65 L95.47,170.74 L96.94,167.99 L98.41,165.39 L99.87,162.92 L101.34,160.58 L102.81,158.35 L104.28,156.23 L105.75,154.21 L107.21,152.28 L108.68,150.44 L110.15,148.68 L111.62,146.99 L113.09,145.38 L114.55,143.83 L116.02,142.35 L117.49,140.93 L118.96,139.56 L120.43,138.25 L121.90,136.98 L123.36,135.77 L124.83,134.60 L126.30,133.47 L127.77,132.39 L129.24,131.34 L130.70,130.33 L132.17,129.35 L133.64,128.41 L135.11,127.50 L136.58,126.62 L138.04,125.77 L139.51,124.95 L140.98,124.15 L142.45,123.38 L143.92,122.63 L145.39,121.91 L146.85,121.21 L148.32,120.53 L149.79,119.87 L151.26,119.23 L152.73,118.61 L154.19,118.01 L155.66,117.43 L157.13,116.86 L158.60,116.31 L160.07,115.78 L161.53,115.26 L163.00,114.75 L164.47,114.26 L165.94,113.78 L167.41,113.32 L168.88,112.87 L170.34,112.43 L171.81,112.00 L173.28,111.58 L174.75,111.17 L176.22,110.78 L177.68,110.39 L179.15,110.02 L180.62,109.65 L182.09,109.30 L183.56,108.95 L185.02,108.61 L186.49,108.28 L187.96,107.96 L189.43,107.64 L190.90,107.34 L192.37,107.04 L193.83,106.75 L195.30,106.46 L196.77,106.18 L198.24,105.91 L199.71,105.65 L201.17,105.39 L202.64,105.13 L204.11,104.89 L205.58,104.65 L207.05,104.41 L208.51,104.18 L209.98,103.95 L211.45,103.73 L212.92,103.52 L214.39,103.31 L215.86,103.10 L217.32,102.90 L218.79,102.70 L220.26,102.51 L221.73,102.32 L223.20,102.14 L224.66,101.96 L226.13,101.78 L227.60,101.61 L229.07,101.44 L230.54,101.27 L232.00,101.11 L233.47,100.95 L234.94,100.79 L236.41,100.64 L237.88,100.49 L239.35,100.34 L240.81,100.20 L242.28,100.06 L243.75,99.92 L245.22,99.79 L246.69,99.66 L248.15,99.53 L249.62,99.40 L251.09,99.27 L252.56,99.15 L254.03,99.03 L255.49,98.92 L256.96,98.80 L258.43,98.69 L259.90,98.58 L261.37,98.47 L262.84,98.36 L264.30,98.26 L265.77,98.16 L267.24,98.06 L268.71,97.96 L270.18,97.86 L271.64,97.76 L273.11,97.67 L274.58,97.58 L276.05,97.49 L277.52,97.40 L278.98,97.32 L280.45,97.23 L281.92,97.15 L283.39,97.07 L284.86,96.98 L286.32,96.91 L287.79,96.83 L289.26,96.75 L290.73,96.68 L292.20,96.60 L293.67,96.53 L295.13,96.46 L296.60,96.39 L298.07,96.32 L299.54,96.26 L301.01,96.19 L302.47,96.12 L303.94,96.06 L305.41,96.00 L306.88,95.94 L308.35,95.88 L309.81,95.82 L311.28,95.76 L312.75,95.70 L314.22,95.64 L315.69,95.59 L317.16,95.53 L318.62,95.48 L320.09,95.43 L321.56,95.38 L323.03,95.32 L324.50,95.27 L325.96,95.22 L327.43,95.18 L328.90,95.13 L330.37,95.08 L331.84,95.03 L333.30,94.99 L334.77,94.94 L336.24,94.90 L337.71,94.86 L339.18,94.81 L340.65,94.77 L342.11,94.73 L343.58,94.69 L345.05,94.65 L346.52,94.61 L347.99,94.57 L349.45,94.53 L350.92,94.50 L352.39,94.46 L353.86,94.42 L355.33,94.39 L356.79,94.35 L358.26,94.32 L359.73,94.28 L361.20,94.25 L362.67,94.22 L364.14,94.19 L365.60,94.15 L367.07,94.12 L368.54,94.09 L370.01,94.06 L371.48,94.03 L372.94,94.00 L374.41,93.97 L375.88,93.94 L377.35,93.91 L378.82,93.89 L380.28,93.86 L381.75,93.83 L383.22,93.80 L384.69,93.78 L386.16,93.75 L387.63,93.73 L389.09,93.70 L390.56,93.68 L392.03,93.65 L393.50,93.63 L394.97,93.61 L396.43,93.58 L397.90,93.56 L399.37,93.54 L400.84,93.51 L402.31,93.49 L403.77,93.47 L405.24,93.45 L406.71,93.43 L408.18,93.41 L409.65,93.39 L411.12,93.37 L412.58,93.35 L414.05,93.33 L415.52,93.31 L416.99,93.29 L418.46,93.27 L419.92,93.25 L421.39,93.23 L422.86,93.21 L424.33,93.20 L425.80,93.18 L427.26,93.16 L428.73,93.15 L430.20,93.13 L431.67,93.11 L433.14,93.10 L434.61,93.08 L436.07,93.06 L437.54,93.05 L439.01,93.03 L440.48,93.02 L441.95,93.00 L443.41,92.99 L444.88,92.97 L446.35,92.96 L447.82,92.94 L449.29,92.93 L450.75,92.92 L452.22,92.90 L453.69,92.89 L455.16,92.88 L456.63,92.86 L458.10,92.85 L459.56,92.84 L461.03,92.83 L462.50,92.81 L463.97,92.80 L465.44,92.79 L466.90,92.78 L468.37,92.76 L469.84,92.75 L471.31,92.74 L472.78,92.73 L474.24,92.72 L475.71,92.71 L477.18,92.70 L478.65,92.69 L480.12,92.68 L481.58,92.67 L483.05,92.66 L484.52,92.65 L485.99,92.64 L487.46,92.63 L488.93,92.62 L490.39,92.61 L491.86,92.60 L493.33,92.59 L494.80,92.58 L496.27,92.57 L497.73,92.56 L499.20,92.55 L500.67,92.54 L502.14,92.53 L503.61,92.52 L505.07,92.52 L506.54,92.51 L508.01,92.50 L509.48,92.49 L510.95,92.48 L512.42,92.47 L513.88,92.47 L515.35,92.46 L516.82,92.45 L518.29,92.44 L519.76,92.44 L521.22,92.43 L522.69,92.42 L524.16,92.41 L525.63,92.41 L527.10,92.40 L528.56,92.39 L530.03,92.39 L531.50,92.38 L532.97,92.37 L534.44,92.37 L535.91,92.36 L537.37,92.35 L538.84,92.35 L540.31,92.34 L541.78,92.33 L543.25,92.33 L544.71,92.32 L546.18,92.32 L547.65,92.31 L549.12,92.31 L550.59,92.30 L552.05,92.29 L553.52,92.29 L554.99,92.28 L556.46,92.28 L557.93,92.27 L559.40,92.27 L560.86,92.26 L562.33,92.26 L563.80,92.25 L565.27,92.25 L566.74,92.24 L568.20,92.24 L569.67,92.23 L571.14,92.23 L572.61,92.22 L574.08,92.22 L575.54,92.21 L577.01,92.21 L578.48,92.20 L579.95,92.20 L581.42,92.19 L582.89,92.19 L584.35,92.18 L585.82,92.18 L587.29,92.18 L588.76,92.17 L590.23,92.17 L591.69,92.16 L593.16,92.16 L594.63,92.15 L596.10,92.15 L597.57,92.15 L599.03,92.14 L600.50,92.14 L601.97,92.14 L603.44,92.13 L604.91,92.13 L606.38,92.12 L607.84,92.12 L609.31,92.12 L610.78,92.11 L612.25,92.11 L613.72,92.11 L615.18,92.10 L616.65,92.10 L618.12,92.10 L619.59,92.09 L621.06,92.09 L622.52,92.09 L623.99,92.08 L625.46,92.08 L626.93,92.08 L628.40,92.07 L629.87,92.07 L631.33,92.07 L632.80,92.06 L634.27,92.06 L635.74,92.06 L637.21,92.06 L638.67,92.05 L640.14,92.05 L641.61,92.05 L643.08,92.04 L644.55,92.04 L646.01,92.04 L647.48,92.04 L648.95,92.03 L650.42,92.03 L651.89,92.03 L653.36,92.03 L654.82,92.02 L656.29,92.02 L657.76,92.02 L659.23,92.02 L660.70,92.01 L662.16,92.01 L663.63,92.01 L665.10,92.01" class="k rc" stroke-width="4" stroke-dasharray="12 16 0.01 16" stroke-dashoffset="28.97"/>
<path d="M64.30,394.80 L64.38,331.08 L64.45,312.89 L64.53,301.88 L64.60,293.96 L64.68,287.77 L64.75,282.69 L64.83,278.37 L64.90,274.63 L64.98,271.32 L65.05,268.36 L65.13,265.67 L65.21,263.22 L65.28,260.96 L65.36,258.87 L65.43,256.92 L65.51,255.09 L65.58,253.38 L65.66,251.76 L65.73,250.23 L65.81,248.78 L65.89,247.40 L65.96,246.08 L66.04,244.82 L66.11,243.61 L66.19,242.45 L66.26,241.34 L66.34,240.27 L66.41,239.24 L66.49,238.25 L66.56,237.28 L66.64,236.35 L66.72,235.45 L66.79,234.58 L66.87,233.73 L66.94,232.91 L67.02,232.11 L67.09,231.33 L67.17,230.57 L67.24,229.83 L67.32,229.12 L67.39,228.41 L67.47,227.73 L67.55,227.06 L67.62,226.41 L67.70,225.77 L67.77,225.14 L67.85,224.53 L67.92,223.94 L68.00,223.35 L68.07,222.77 L68.15,222.21 L68.22,221.66 L68.30,221.12 L68.38,220.59 L68.45,220.07 L68.53,219.55 L68.60,219.05 L68.68,218.56 L68.75,218.07 L68.83,217.59 L68.90,217.12 L68.98,216.66 L69.06,216.20 L69.13,215.76 L69.21,215.32 L69.28,214.88 L69.36,214.45 L69.43,214.03 L69.51,213.62 L69.58,213.21 L69.66,212.80 L69.73,212.41 L69.81,212.01 L69.89,211.63 L69.96,211.25 L70.04,210.87 L70.11,210.50 L70.19,210.13 L70.26,209.77 L70.34,209.41 L70.41,209.06 L70.49,208.71 L70.56,208.36 L70.64,208.02 L70.72,207.69 L70.79,207.35 L70.87,207.02 L70.94,206.70 L71.02,206.38 L71.09,206.06 L71.17,205.74 L71.24,205.43 L71.32,205.13 L71.39,204.82 L71.47,204.52 L71.55,204.22 L71.62,203.93 L71.70,203.64 L71.77,203.35 L71.85,203.06 L71.92,202.78 L72.00,202.50 L72.07,202.22 L72.15,201.95 L72.23,201.67 L72.30,201.40 L72.38,201.14 L72.45,200.87 L72.53,200.61 L72.60,200.35 L72.68,200.09 L72.75,199.84 L72.83,199.58 L72.90,199.33 L72.98,199.08 L73.06,198.84 L73.13,198.59 L73.21,198.35 L73.28,198.11 L73.36,197.87 L73.43,197.64 L73.51,197.40 L73.58,197.17 L73.66,196.94 L73.73,196.71 L73.81,196.48 L73.89,196.26 L73.96,196.04 L74.04,195.81 L74.11,195.59 L74.19,195.38 L74.26,195.16 L74.34,194.94 L74.41,194.73 L74.49,194.52 L74.56,194.31 L74.64,194.10 L74.72,193.89 L74.79,193.69 L74.87,193.48 L74.94,193.28 L75.02,193.08 L75.09,192.88 L75.17,192.68 L75.24,192.49 L75.32,192.29 L75.40,192.10 L75.47,191.90 L75.55,191.71 L75.62,191.52 L75.70,191.33 L75.77,191.14 L75.85,190.96 L75.92,190.77 L76.00,190.59 L76.07,190.40 L76.15,190.22 L76.23,190.04 L76.30,189.86 L76.38,189.68 L76.45,189.51 L76.53,189.33 L76.60,189.15 L76.68,188.98 L76.75,188.81 L76.83,188.64 L76.90,188.46 L76.98,188.29 L77.06,188.13 L77.13,187.96 L77.21,187.79 L77.28,187.62 L77.36,187.46 L77.43,187.30 L77.51,187.13 L77.58,186.97 L77.66,186.81 L77.73,186.65 L77.81,186.49 L77.89,186.33 L77.96,186.17 L78.04,186.02 L78.11,185.86 L78.19,185.70 L78.26,185.55 L78.34,185.40 L78.41,185.24 L78.49,185.09 L78.57,184.94 L78.64,184.79 L78.72,184.64 L78.79,184.49 L78.87,184.34 L78.94,184.20 L79.02,184.05 L79.09,183.91 L79.17,183.76 L79.24,183.62 L79.32,183.47 L80.79,180.82 L82.26,178.39 L83.72,176.15 L85.19,174.08 L86.66,172.14 L88.13,170.33 L89.60,168.63 L91.06,167.02 L92.53,165.50 L94.00,164.06 L95.47,162.68 L96.94,161.37 L98.41,160.12 L99.87,158.92 L101.34,157.77 L102.81,156.66 L104.28,155.59 L105.75,154.57 L107.21,153.57 L108.68,152.62 L110.15,151.69 L111.62,150.79 L113.09,149.92 L114.55,149.08 L116.02,148.26 L117.49,147.46 L118.96,146.68 L120.43,145.93 L121.90,145.19 L123.36,144.48 L124.83,143.78 L126.30,143.09 L127.77,142.43 L129.24,141.78 L130.70,141.14 L132.17,140.52 L133.64,139.91 L135.11,139.31 L136.58,138.73 L138.04,138.15 L139.51,137.59 L140.98,137.04 L142.45,136.50 L143.92,135.97 L145.39,135.45 L146.85,134.94 L148.32,134.44 L149.79,133.94 L151.26,133.46 L152.73,132.98 L154.19,132.51 L155.66,132.05 L157.13,131.60 L158.60,131.15 L160.07,130.71 L161.53,130.28 L163.00,129.85 L164.47,129.43 L165.94,129.01 L167.41,128.60 L168.88,128.20 L170.34,127.81 L171.81,127.41 L173.28,127.03 L174.75,126.65 L176.22,126.27 L177.68,125.90 L179.15,125.53 L180.62,125.17 L182.09,124.81 L183.56,124.46 L185.02,124.11 L186.49,123.77 L187.96,123.43 L189.43,123.09 L190.90,122.76 L192.37,122.43 L193.83,122.10 L195.30,121.78 L196.77,121.47 L198.24,121.15 L199.71,120.84 L201.17,120.53 L202.64,120.23 L204.11,119.93 L205.58,119.63 L207.05,119.34 L208.51,119.05 L209.98,118.76 L211.45,118.47 L212.92,118.19 L214.39,117.91 L215.86,117.63 L217.32,117.36 L218.79,117.09 L220.26,116.82 L221.73,116.55 L223.20,116.28 L224.66,116.02 L226.13,115.76 L227.60,115.51 L229.07,115.25 L230.54,115.00 L232.00,114.75 L233.47,114.50 L234.94,114.25 L236.41,114.01 L237.88,113.77 L239.35,113.53 L240.81,113.29 L242.28,113.05 L243.75,112.82 L245.22,112.59 L246.69,112.36 L248.15,112.13 L249.62,111.90 L251.09,111.68 L252.56,111.45 L254.03,111.23 L255.49,111.01 L256.96,110.80 L258.43,110.58 L259.90,110.36 L261.37,110.15 L262.84,109.94 L264.30,109.73 L265.77,109.52 L267.24,109.31 L268.71,109.11 L270.18,108.91 L271.64,108.70 L273.11,108.50 L274.58,108.30 L276.05,108.10 L277.52,107.91 L278.98,107.71 L280.45,107.52 L281.92,107.32 L283.39,107.13 L284.86,106.94 L286.32,106.75 L287.79,106.57 L289.26,106.38 L290.73,106.19 L292.20,106.01 L293.67,105.83 L295.13,105.65 L296.60,105.46 L298.07,105.29 L299.54,105.11 L301.01,104.93 L302.47,104.75 L303.94,104.58 L305.41,104.40 L306.88,104.23 L308.35,104.06 L309.81,103.89 L311.28,103.72 L312.75,103.55 L314.22,103.38 L315.69,103.22 L317.16,103.05 L318.62,102.88 L320.09,102.72 L321.56,102.56 L323.03,102.40 L324.50,102.23 L325.96,102.07 L327.43,101.91 L328.90,101.76 L330.37,101.60 L331.84,101.44 L333.30,101.29 L334.77,101.13 L336.24,100.98 L337.71,100.82 L339.18,100.67 L340.65,100.52 L342.11,100.37 L343.58,100.22 L345.05,100.07 L346.52,99.92 L347.99,99.77 L349.45,99.62 L350.92,99.48 L352.39,99.33 L353.86,99.19 L355.33,99.04 L356.79,98.90 L358.26,98.76 L359.73,98.62 L361.20,98.47 L362.67,98.33 L364.14,98.19 L365.60,98.06 L367.07,97.92 L368.54,97.78 L370.01,97.64 L371.48,97.51 L372.94,97.37 L374.41,97.23 L375.88,97.10 L377.35,96.97 L378.82,96.83 L380.28,96.70 L381.75,96.57 L383.22,96.44 L384.69,96.31 L386.16,96.18 L387.63,96.05 L389.09,95.92 L390.56,95.79 L392.03,95.66 L393.50,95.53 L394.97,95.41 L396.43,95.28 L397.90,95.15 L399.37,95.03 L400.84,94.90 L402.31,94.78 L403.77,94.66 L405.24,94.53 L406.71,94.41 L408.18,94.29 L409.65,94.17 L411.12,94.05 L412.58,93.93 L414.05,93.81 L415.52,93.69 L416.99,93.57 L418.46,93.45 L419.92,93.33 L421.39,93.22 L422.86,93.10 L424.33,92.98 L425.80,92.87 L427.26,92.75 L428.73,92.64 L430.20,92.52 L431.67,92.41 L433.14,92.29 L434.61,92.18 L436.07,92.07 L437.54,91.96 L439.01,91.84 L440.48,91.73 L441.95,91.62 L443.41,91.51 L444.88,91.40 L446.35,91.29 L447.82,91.18 L449.29,91.07 L450.75,90.96 L452.22,90.86 L453.69,90.75 L455.16,90.64 L456.63,90.53 L458.10,90.43 L459.56,90.32 L461.03,90.22 L462.50,90.11 L463.97,90.01 L465.44,89.90 L466.90,89.80 L468.37,89.69 L469.84,89.59 L471.31,89.49 L472.78,89.39 L474.24,89.28 L475.71,89.18 L477.18,89.08 L478.65,88.98 L480.12,88.88 L481.58,88.78 L483.05,88.68 L484.52,88.58 L485.99,88.48 L487.46,88.38 L488.93,88.28 L490.39,88.18 L491.86,88.08 L493.33,87.99 L494.80,87.89 L496.27,87.79 L497.73,87.70 L499.20,87.60 L500.67,87.50 L502.14,87.41 L503.61,87.31 L505.07,87.22 L506.54,87.12 L508.01,87.03 L509.48,86.93 L510.95,86.84 L512.42,86.75 L513.88,86.65 L515.35,86.56 L516.82,86.47 L518.29,86.38 L519.76,86.28 L521.22,86.19 L522.69,86.10 L524.16,86.01 L525.63,85.92 L527.10,85.83 L528.56,85.74 L530.03,85.65 L531.50,85.56 L532.97,85.47 L534.44,85.38 L535.91,85.29 L537.37,85.20 L538.84,85.11 L540.31,85.03 L541.78,84.94 L543.25,84.85 L544.71,84.76 L546.18,84.68 L547.65,84.59 L549.12,84.50 L550.59,84.42 L552.05,84.33 L553.52,84.25 L554.99,84.16 L556.46,84.08 L557.93,83.99 L559.40,83.91 L560.86,83.82 L562.33,83.74 L563.80,83.65 L565.27,83.57 L566.74,83.49 L568.20,83.40 L569.67,83.32 L571.14,83.24 L572.61,83.16 L574.08,83.07 L575.54,82.99 L577.01,82.91 L578.48,82.83 L579.95,82.75 L581.42,82.67 L582.89,82.59 L584.35,82.51 L585.82,82.43 L587.29,82.35 L588.76,82.27 L590.23,82.19 L591.69,82.11 L593.16,82.03 L594.63,81.95 L596.10,81.87 L597.57,81.79 L599.03,81.71 L600.50,81.63 L601.97,81.56 L603.44,81.48 L604.91,81.40 L606.38,81.32 L607.84,81.25 L609.31,81.17 L610.78,81.09 L612.25,81.02 L613.72,80.94 L615.18,80.86 L616.65,80.79 L618.12,80.71 L619.59,80.64 L621.06,80.56 L622.52,80.49 L623.99,80.41 L625.46,80.34 L626.93,80.26 L628.40,80.19 L629.87,80.12 L631.33,80.04 L632.80,79.97 L634.27,79.89 L635.74,79.82 L637.21,79.75 L638.67,79.68 L640.14,79.60 L641.61,79.53 L643.08,79.46 L644.55,79.39 L646.01,79.31 L647.48,79.24 L648.95,79.17 L650.42,79.10 L651.89,79.03 L653.36,78.96 L654.82,78.89 L656.29,78.81 L657.76,78.74 L659.23,78.67 L660.70,78.60 L662.16,78.53 L663.63,78.46 L665.10,78.39" class="k rc" stroke-width="4.2"/>
</g>
<circle cx="64.3" cy="359.0" r="7.6" fill="#4f81bd"/>
<circle cx="94.3" cy="172.8" r="7.6" fill="#4f81bd"/>
<circle cx="139.4" cy="125.1" r="7.6" fill="#4f81bd"/>
<circle cx="176.9" cy="112.4" r="7.6" fill="#4f81bd"/>
<circle cx="214.5" cy="107.2" r="7.6" fill="#4f81bd"/>
<circle cx="252.1" cy="101.7" r="7.6" fill="#4f81bd"/>
<circle cx="289.6" cy="97.2" r="7.6" fill="#4f81bd"/>
<circle cx="327.1" cy="96.5" r="7.6" fill="#4f81bd"/>
<circle cx="364.7" cy="94.4" r="7.6" fill="#4f81bd"/>
<circle cx="402.2" cy="93.6" r="7.6" fill="#4f81bd"/>
<circle cx="439.8" cy="93.1" r="7.6" fill="#4f81bd"/>
<circle cx="477.4" cy="91.9" r="7.6" fill="#4f81bd"/>
<circle cx="514.9" cy="91.9" r="7.6" fill="#4f81bd"/>
<circle cx="552.4" cy="92.3" r="7.6" fill="#4f81bd"/>
<circle cx="590.0" cy="89.4" r="7.6" fill="#4f81bd"/>
<circle cx="665.1" cy="87.2" r="7.6" fill="#4f81bd"/>
<text x="48" y="400.5" class="tk" text-anchor="end">0.0</text>
<text x="48" y="357.3" class="tk" text-anchor="end">0.1</text>
<text x="48" y="314.2" class="tk" text-anchor="end">0.2</text>
<text x="48" y="271.0" class="tk" text-anchor="end">0.3</text>
<text x="48" y="227.8" class="tk" text-anchor="end">0.4</text>
<text x="48" y="184.7" class="tk" text-anchor="end">0.5</text>
<text x="48" y="141.5" class="tk" text-anchor="end">0.6</text>
<text x="48" y="98.3" class="tk" text-anchor="end">0.7</text>
<text x="48" y="55.2" class="tk" text-anchor="end">0.8</text>
<text x="48" y="12.0" class="tk" text-anchor="end">0.9</text>
<text x="64.3" y="422.7" class="tk" text-anchor="middle">0</text>
<text x="139.4" y="422.7" class="tk" text-anchor="middle">5</text>
<text x="214.5" y="422.7" class="tk" text-anchor="middle">10</text>
<text x="289.6" y="422.7" class="tk" text-anchor="middle">15</text>
<text x="364.7" y="422.7" class="tk" text-anchor="middle">20</text>
<text x="439.8" y="422.7" class="tk" text-anchor="middle">25</text>
<text x="514.9" y="422.7" class="tk" text-anchor="middle">30</text>
<text x="590.0" y="422.7" class="tk" text-anchor="middle">35</text>
<text x="665.1" y="422.7" class="tk" text-anchor="middle">40</text>
<text x="380.4" y="452.6" class="ti" text-anchor="middle">Time (min)</text>
<text transform="translate(14.7,201) rotate(-90)" class="ti" text-anchor="middle">q (mg/g)</text>
<text x="90.6" y="52.3" class="lab" style="font-size:29.3px">(a)</text>
<text x="117" y="346.1" class="cond">T=25 °C</text>
<text x="117" y="371.6" class="cond">P= 7 bar</text>
<rect x="393.8" y="153.4" width="291.3" height="230.1" fill="#fff" stroke="#000" stroke-width="1.4"/>
<text x="466.9" y="175.8" class="lg">Experimental</text>
<text x="466.9" y="208.4" class="lg">First Order</text>
<text x="466.9" y="241.6" class="lg">Second Order</text>
<text x="466.9" y="274.3" class="lg">Elovich</text>
<text x="466.9" y="306.9" class="lg">Fractional Order</text>
<text x="466.9" y="339.8" class="lg">Linear (Experimental)</text>
<text x="466.9" y="373.2" class="lg">Linear (Fractional Order)</text>
<circle cx="435" cy="170.2" r="6" fill="#4f81bd"/>
<path d="M409.10,202.80h.01 M416.29,202.80h.01 M423.48,202.80h.01 M430.67,202.80h.01 M437.86,202.80h.01 M445.05,202.80h.01 M452.24,202.80h.01 M459.43,202.80h.01" class="dot" style="stroke-dasharray:none"/>
<path d="M409.9,236 H437.5 M453.9,236 h0.01" class="k rc" stroke-width="4"/>
<path d="M409.9,268.7 H459.8" class="k rc" stroke-width="4"/>
<path d="M409.9,301.3 H419.7 M438.3,301.3 h0.01 M454.4,301.3 H459.8" class="k rc" stroke-width="4.3"/>
<path d="M409.10,334.20h.01 M415.25,334.20h.01 M421.40,334.20h.01 M427.55,334.20h.01 M433.70,334.20h.01 M439.85,334.20h.01 M446.00,334.20h.01 M452.15,334.20h.01 M458.30,334.20h.01" class="bd" stroke="#4472c4"/>
<path d="M409.10,367.60h.01 M415.25,367.60h.01 M421.40,367.60h.01 M427.55,367.60h.01 M433.70,367.60h.01 M439.85,367.60h.01 M446.00,367.60h.01 M452.15,367.60h.01 M458.30,367.60h.01" class="bd" stroke="#4bacc6"/>
</g>
<g id="chartB">
<clipPath id="clipB"><rect x="70.0" y="488.5" width="626.0" height="405.8"/></clipPath>
<path d="M70.3,488.5 V893.8 H696.0" fill="none" stroke="#adadad" stroke-width="1.9"/>
<path d="M69.8,488.5 H696.0 V894.4" fill="none" stroke="#000" stroke-width="1.5"/>
<g clip-path="url(#clipB)">
<path d="M70.30,614.73h.01 M76.64,613.31h.01 M82.99,611.89h.01 M89.33,610.48h.01 M95.68,609.06h.01 M102.02,607.65h.01 M108.36,606.23h.01 M114.71,604.82h.01 M121.05,603.40h.01 M127.40,601.98h.01 M133.74,600.57h.01 M140.08,599.15h.01 M146.43,597.74h.01 M152.77,596.32h.01 M159.12,594.90h.01 M165.46,593.49h.01 M171.80,592.07h.01 M178.15,590.66h.01 M184.49,589.24h.01 M190.83,587.83h.01 M197.18,586.41h.01 M203.52,584.99h.01 M209.87,583.58h.01 M216.21,582.16h.01 M222.55,580.75h.01 M228.90,579.33h.01 M235.24,577.92h.01 M241.59,576.50h.01 M247.93,575.08h.01 M254.27,573.67h.01 M260.62,572.25h.01 M266.96,570.84h.01 M273.31,569.42h.01 M279.65,568.01h.01 M285.99,566.59h.01 M292.34,565.17h.01 M298.68,563.76h.01 M305.03,562.34h.01 M311.37,560.93h.01 M317.71,559.51h.01 M324.06,558.10h.01 M330.40,556.68h.01 M336.75,555.26h.01 M343.09,553.85h.01 M349.43,552.43h.01 M355.78,551.02h.01 M362.12,549.60h.01 M368.47,548.18h.01 M374.81,546.77h.01 M381.15,545.35h.01 M387.50,543.94h.01 M393.84,542.52h.01 M400.19,541.11h.01 M406.53,539.69h.01 M412.87,538.27h.01 M419.22,536.86h.01 M425.56,535.44h.01 M431.90,534.03h.01 M438.25,532.61h.01 M444.59,531.20h.01 M450.94,529.78h.01 M457.28,528.36h.01 M463.62,526.95h.01 M469.97,525.53h.01 M476.31,524.12h.01 M482.66,522.70h.01 M489.00,521.29h.01 M495.34,519.87h.01 M501.69,518.45h.01 M508.03,517.04h.01 M514.38,515.62h.01 M520.72,514.21h.01 M527.06,512.79h.01 M533.41,511.37h.01 M539.75,509.96h.01 M546.10,508.54h.01 M552.44,507.13h.01 M558.78,505.71h.01 M565.13,504.30h.01 M571.47,502.88h.01 M577.82,501.46h.01 M584.16,500.05h.01 M590.50,498.63h.01 M596.85,497.22h.01 M603.19,495.80h.01 M609.54,494.39h.01 M615.88,492.97h.01 M622.22,491.55h.01 M628.57,490.14h.01 M634.91,488.72h.01 M641.25,487.31h.01" class="bd bb" stroke="#4472c4"/>
<path d="M70.30,893.80 L70.38,892.52 L70.46,891.24 L70.54,889.96 L70.61,888.69 L70.69,887.43 L70.77,886.17 L70.85,884.91 L70.93,883.66 L71.01,882.41 L71.09,881.17 L71.16,879.93 L71.24,878.70 L71.32,877.47 L71.40,876.24 L71.48,875.02 L71.56,873.80 L71.64,872.59 L71.71,871.38 L71.79,870.18 L71.87,868.98 L71.95,867.78 L72.03,866.59 L72.11,865.40 L72.19,864.22 L72.26,863.04 L72.34,861.86 L72.42,860.69 L72.50,859.53 L72.58,858.36 L72.66,857.20 L72.73,856.05 L72.81,854.90 L72.89,853.75 L72.97,852.61 L73.05,851.47 L73.13,850.34 L73.21,849.21 L73.28,848.08 L73.36,846.96 L73.44,845.84 L73.52,844.72 L73.60,843.61 L73.68,842.51 L73.76,841.40 L73.83,840.31 L73.91,839.21 L73.99,838.12 L74.07,837.03 L74.15,835.95 L74.23,834.87 L74.31,833.79 L74.38,832.72 L74.46,831.65 L74.54,830.59 L74.62,829.52 L74.70,828.47 L74.78,827.41 L74.86,826.36 L74.93,825.32 L75.01,824.27 L75.09,823.24 L75.17,822.20 L75.25,821.17 L75.33,820.14 L75.41,819.12 L75.48,818.10 L75.56,817.08 L75.64,816.06 L75.72,815.05 L75.80,814.05 L75.88,813.04 L75.96,812.05 L76.03,811.05 L76.11,810.06 L76.19,809.07 L76.27,808.08 L76.35,807.10 L76.43,806.12 L76.50,805.15 L76.58,804.17 L76.66,803.21 L76.74,802.24 L76.82,801.28 L76.90,800.32 L76.98,799.37 L77.05,798.41 L77.13,797.47 L77.21,796.52 L77.29,795.58 L77.37,794.64 L77.45,793.71 L77.53,792.78 L77.60,791.85 L77.68,790.92 L77.76,790.00 L77.84,789.08 L77.92,788.17 L78.00,787.25 L78.08,786.35 L78.15,785.44 L78.23,784.54 L78.31,783.64 L78.39,782.74 L78.47,781.85 L78.55,780.96 L78.63,780.07 L78.70,779.19 L78.78,778.31 L78.86,777.43 L78.94,776.56 L79.02,775.68 L79.10,774.82 L79.18,773.95 L79.25,773.09 L79.33,772.23 L79.41,771.37 L79.49,770.52 L79.57,769.67 L79.65,768.82 L79.73,767.98 L79.80,767.14 L79.88,766.30 L79.96,765.46 L80.04,764.63 L80.12,763.80 L80.20,762.97 L80.27,762.15 L80.35,761.33 L80.43,760.51 L80.51,759.70 L80.59,758.88 L80.67,758.08 L80.75,757.27 L80.82,756.46 L80.90,755.66 L80.98,754.87 L81.06,754.07 L81.14,753.28 L81.22,752.49 L81.30,751.70 L81.37,750.92 L81.45,750.14 L81.53,749.36 L81.61,748.58 L81.69,747.81 L81.77,747.04 L81.85,746.27 L81.92,745.51 L82.00,744.74 L82.08,743.98 L82.16,743.23 L82.24,742.47 L82.32,741.72 L82.40,740.97 L82.47,740.22 L82.55,739.48 L82.63,738.74 L82.71,738.00 L82.79,737.27 L82.87,736.53 L82.95,735.80 L83.02,735.07 L83.10,734.35 L83.18,733.62 L83.26,732.90 L83.34,732.19 L83.42,731.47 L83.50,730.76 L83.57,730.05 L83.65,729.34 L83.73,728.63 L83.81,727.93 L83.89,727.23 L83.97,726.53 L84.04,725.83 L84.12,725.14 L84.20,724.45 L84.28,723.76 L84.36,723.08 L84.44,722.39 L84.52,721.71 L84.59,721.03 L84.67,720.36 L84.75,719.68 L84.83,719.01 L84.91,718.34 L84.99,717.67 L85.07,717.01 L85.14,716.35 L85.22,715.69 L85.30,715.03 L85.38,714.37 L85.46,713.72 L85.54,713.07 L85.62,712.42 L85.69,711.78 L85.77,711.13 L85.85,710.49 L85.93,709.85 L87.46,697.85 L88.99,686.64 L90.51,676.18 L92.04,666.41 L93.57,657.28 L95.10,648.76 L96.62,640.80 L98.15,633.36 L99.68,626.42 L101.21,619.94 L102.74,613.88 L104.26,608.23 L105.79,602.95 L107.32,598.02 L108.85,593.42 L110.37,589.12 L111.90,585.10 L113.43,581.35 L114.96,577.85 L116.48,574.58 L118.01,571.52 L119.54,568.67 L121.07,566.01 L122.60,563.52 L124.12,561.20 L125.65,559.03 L127.18,557.00 L128.71,555.11 L130.23,553.34 L131.76,551.69 L133.29,550.15 L134.82,548.72 L136.35,547.37 L137.87,546.12 L139.40,544.94 L140.93,543.85 L142.46,542.83 L143.98,541.87 L145.51,540.98 L147.04,540.15 L148.57,539.37 L150.10,538.65 L151.62,537.97 L153.15,537.34 L154.68,536.74 L156.21,536.19 L157.73,535.68 L159.26,535.20 L160.79,534.75 L162.32,534.33 L163.84,533.93 L165.37,533.57 L166.90,533.23 L168.43,532.91 L169.96,532.61 L171.48,532.33 L173.01,532.07 L174.54,531.83 L176.07,531.60 L177.59,531.39 L179.12,531.19 L180.65,531.01 L182.18,530.83 L183.71,530.67 L185.23,530.52 L186.76,530.38 L188.29,530.25 L189.82,530.13 L191.34,530.01 L192.87,529.91 L194.40,529.81 L195.93,529.71 L197.46,529.63 L198.98,529.54 L200.51,529.47 L202.04,529.40 L203.57,529.33 L205.09,529.27 L206.62,529.21 L208.15,529.16 L209.68,529.11 L211.21,529.06 L212.73,529.02 L214.26,528.98 L215.79,528.94 L217.32,528.90 L218.84,528.87 L220.37,528.84 L221.90,528.81 L223.43,528.78 L224.95,528.76 L226.48,528.73 L228.01,528.71 L229.54,528.69 L231.07,528.67 L232.59,528.65 L234.12,528.63 L235.65,528.62 L237.18,528.60 L238.70,528.59 L240.23,528.58 L241.76,528.57 L243.29,528.55 L244.82,528.54 L246.34,528.53 L247.87,528.53 L249.40,528.52 L250.93,528.51 L252.45,528.50 L253.98,528.49 L255.51,528.49 L257.04,528.48 L258.57,528.48 L260.09,528.47 L261.62,528.47 L263.15,528.46 L264.68,528.46 L266.20,528.45 L267.73,528.45 L269.26,528.45 L270.79,528.44 L272.31,528.44 L273.84,528.44 L275.37,528.43 L276.90,528.43 L278.43,528.43 L279.95,528.43 L281.48,528.43 L283.01,528.42 L284.54,528.42 L286.06,528.42 L287.59,528.42 L289.12,528.42 L290.65,528.42 L292.18,528.41 L293.70,528.41 L295.23,528.41 L296.76,528.41 L298.29,528.41 L299.81,528.41 L301.34,528.41 L302.87,528.41 L304.40,528.41 L305.93,528.41 L307.45,528.41 L308.98,528.41 L310.51,528.40 L312.04,528.40 L313.56,528.40 L315.09,528.40 L316.62,528.40 L318.15,528.40 L319.67,528.40 L321.20,528.40 L322.73,528.40 L324.26,528.40 L325.79,528.40 L327.31,528.40 L328.84,528.40 L330.37,528.40 L331.90,528.40 L333.42,528.40 L334.95,528.40 L336.48,528.40 L338.01,528.40 L339.54,528.40 L341.06,528.40 L342.59,528.40 L344.12,528.40 L345.65,528.40 L347.17,528.40 L348.70,528.40 L350.23,528.40 L351.76,528.40 L353.29,528.40 L354.81,528.40 L356.34,528.40 L357.87,528.40 L359.40,528.40 L360.92,528.40 L362.45,528.40 L363.98,528.40 L365.51,528.40 L367.03,528.40 L368.56,528.40 L370.09,528.40 L371.62,528.40 L373.15,528.40 L374.67,528.40 L376.20,528.40 L377.73,528.40 L379.26,528.40 L380.78,528.40 L382.31,528.40 L383.84,528.40 L385.37,528.40 L386.90,528.40 L388.42,528.40 L389.95,528.40 L391.48,528.40 L393.01,528.40 L394.53,528.40 L396.06,528.40 L397.59,528.40 L399.12,528.40 L400.65,528.40 L402.17,528.40 L403.70,528.40 L405.23,528.40 L406.76,528.40 L408.28,528.40 L409.81,528.40 L411.34,528.40 L412.87,528.40 L414.40,528.40 L415.92,528.40 L417.45,528.40 L418.98,528.40 L420.51,528.40 L422.03,528.40 L423.56,528.40 L425.09,528.40 L426.62,528.40 L428.14,528.40 L429.67,528.40 L431.20,528.40 L432.73,528.40 L434.26,528.40 L435.78,528.40 L437.31,528.40 L438.84,528.40 L440.37,528.40 L441.89,528.40 L443.42,528.40 L444.95,528.40 L446.48,528.40 L448.01,528.40 L449.53,528.40 L451.06,528.40 L452.59,528.40 L454.12,528.40 L455.64,528.40 L457.17,528.40 L458.70,528.40 L460.23,528.40 L461.76,528.40 L463.28,528.40 L464.81,528.40 L466.34,528.40 L467.87,528.40 L469.39,528.40 L470.92,528.40 L472.45,528.40 L473.98,528.40 L475.50,528.40 L477.03,528.40 L478.56,528.40 L480.09,528.40 L481.62,528.40 L483.14,528.40 L484.67,528.40 L486.20,528.40 L487.73,528.40 L489.25,528.40 L490.78,528.40 L492.31,528.40 L493.84,528.40 L495.37,528.40 L496.89,528.40 L498.42,528.40 L499.95,528.40 L501.48,528.40 L503.00,528.40 L504.53,528.40 L506.06,528.40 L507.59,528.40 L509.12,528.40 L510.64,528.40 L512.17,528.40 L513.70,528.40 L515.23,528.40 L516.75,528.40 L518.28,528.40 L519.81,528.40 L521.34,528.40 L522.86,528.40 L524.39,528.40 L525.92,528.40 L527.45,528.40 L528.98,528.40 L530.50,528.40 L532.03,528.40 L533.56,528.40 L535.09,528.40 L536.61,528.40 L538.14,528.40 L539.67,528.40 L541.20,528.40 L542.73,528.40 L544.25,528.40 L545.78,528.40 L547.31,528.40 L548.84,528.40 L550.36,528.40 L551.89,528.40 L553.42,528.40 L554.95,528.40 L556.48,528.40 L558.00,528.40 L559.53,528.40 L561.06,528.40 L562.59,528.40 L564.11,528.40 L565.64,528.40 L567.17,528.40 L568.70,528.40 L570.22,528.40 L571.75,528.40 L573.28,528.40 L574.81,528.40 L576.34,528.40 L577.86,528.40 L579.39,528.40 L580.92,528.40 L582.45,528.40 L583.97,528.40 L585.50,528.40 L587.03,528.40 L588.56,528.40 L590.09,528.40 L591.61,528.40 L593.14,528.40 L594.67,528.40 L596.20,528.40 L597.72,528.40 L599.25,528.40 L600.78,528.40 L602.31,528.40 L603.84,528.40 L605.36,528.40 L606.89,528.40 L608.42,528.40 L609.95,528.40 L611.47,528.40 L613.00,528.40 L614.53,528.40 L616.06,528.40 L617.59,528.40 L619.11,528.40 L620.64,528.40 L622.17,528.40 L623.70,528.40 L625.22,528.40 L626.75,528.40 L628.28,528.40 L629.81,528.40 L631.33,528.40 L632.86,528.40 L634.39,528.40 L635.92,528.40 L637.45,528.40 L638.97,528.40 L640.50,528.40 L642.03,528.40 L643.56,528.40 L645.08,528.40 L646.61,528.40 L648.14,528.40 L649.67,528.40 L651.20,528.40 L652.72,528.40 L654.25,528.40 L655.78,528.40 L657.31,528.40 L658.83,528.40 L660.36,528.40 L661.89,528.40 L663.42,528.40 L664.95,528.40 L666.47,528.40 L668.00,528.40 L669.53,528.40 L671.06,528.40 L672.58,528.40 L674.11,528.40 L675.64,528.40 L677.17,528.40 L678.69,528.40 L680.22,528.40 L681.75,528.40 L683.28,528.40 L684.81,528.40 L686.33,528.40 L687.86,528.40 L689.39,528.40 L690.92,528.40 L692.44,528.40 L693.97,528.40 L695.50,528.40" class="dot" style="stroke-width:4.1;stroke-dasharray:0.01 8.73" stroke-dashoffset="2.05"/>
<path d="M70.30,893.80 L70.38,891.22 L70.46,888.67 L70.54,886.16 L70.61,883.68 L70.69,881.23 L70.77,878.82 L70.85,876.43 L70.93,874.08 L71.01,871.75 L71.09,869.46 L71.16,867.20 L71.24,864.96 L71.32,862.75 L71.40,860.57 L71.48,858.42 L71.56,856.29 L71.64,854.19 L71.71,852.11 L71.79,850.06 L71.87,848.04 L71.95,846.03 L72.03,844.06 L72.11,842.10 L72.19,840.17 L72.26,838.26 L72.34,836.37 L72.42,834.50 L72.50,832.66 L72.58,830.83 L72.66,829.03 L72.73,827.25 L72.81,825.49 L72.89,823.74 L72.97,822.02 L73.05,820.31 L73.13,818.63 L73.21,816.96 L73.28,815.31 L73.36,813.67 L73.44,812.06 L73.52,810.46 L73.60,808.88 L73.68,807.32 L73.76,805.77 L73.83,804.24 L73.91,802.72 L73.99,801.22 L74.07,799.73 L74.15,798.26 L74.23,796.81 L74.31,795.37 L74.38,793.94 L74.46,792.53 L74.54,791.13 L74.62,789.75 L74.70,788.38 L74.78,787.02 L74.86,785.68 L74.93,784.35 L75.01,783.03 L75.09,781.73 L75.17,780.43 L75.25,779.15 L75.33,777.89 L75.41,776.63 L75.48,775.39 L75.56,774.15 L75.64,772.93 L75.72,771.72 L75.80,770.52 L75.88,769.34 L75.96,768.16 L76.03,766.99 L76.11,765.84 L76.19,764.69 L76.27,763.56 L76.35,762.43 L76.43,761.32 L76.50,760.21 L76.58,759.12 L76.66,758.03 L76.74,756.96 L76.82,755.89 L76.90,754.83 L76.98,753.78 L77.05,752.75 L77.13,751.71 L77.21,750.69 L77.29,749.68 L77.37,748.68 L77.45,747.68 L77.53,746.69 L77.60,745.71 L77.68,744.74 L77.76,743.78 L77.84,742.82 L77.92,741.87 L78.00,740.93 L78.08,740.00 L78.15,739.08 L78.23,738.16 L78.31,737.25 L78.39,736.35 L78.47,735.45 L78.55,734.56 L78.63,733.68 L78.70,732.81 L78.78,731.94 L78.86,731.08 L78.94,730.23 L79.02,729.38 L79.10,728.54 L79.18,727.70 L79.25,726.88 L79.33,726.05 L79.41,725.24 L79.49,724.43 L79.57,723.63 L79.65,722.83 L79.73,722.04 L79.80,721.25 L79.88,720.47 L79.96,719.70 L80.04,718.93 L80.12,718.17 L80.20,717.41 L80.27,716.66 L80.35,715.92 L80.43,715.18 L80.51,714.44 L80.59,713.71 L80.67,712.99 L80.75,712.27 L80.82,711.55 L80.90,710.84 L80.98,710.14 L81.06,709.44 L81.14,708.75 L81.22,708.06 L81.30,707.37 L81.37,706.69 L81.45,706.02 L81.53,705.35 L81.61,704.68 L81.69,704.02 L81.77,703.36 L81.85,702.71 L81.92,702.06 L82.00,701.42 L82.08,700.78 L82.16,700.15 L82.24,699.52 L82.32,698.89 L82.40,698.27 L82.47,697.65 L82.55,697.03 L82.63,696.42 L82.71,695.82 L82.79,695.22 L82.87,694.62 L82.95,694.02 L83.02,693.43 L83.10,692.85 L83.18,692.26 L83.26,691.68 L83.34,691.11 L83.42,690.54 L83.50,689.97 L83.57,689.41 L83.65,688.84 L83.73,688.29 L83.81,687.73 L83.89,687.18 L83.97,686.64 L84.04,686.09 L84.12,685.55 L84.20,685.01 L84.28,684.48 L84.36,683.95 L84.44,683.42 L84.52,682.90 L84.59,682.38 L84.67,681.86 L84.75,681.35 L84.83,680.84 L84.91,680.33 L84.99,679.82 L85.07,679.32 L85.14,678.82 L85.22,678.32 L85.30,677.83 L85.38,677.34 L85.46,676.85 L85.54,676.37 L85.62,675.89 L85.69,675.41 L85.77,674.93 L85.85,674.46 L85.93,673.99 L87.46,665.34 L88.99,657.57 L90.51,650.55 L92.04,644.17 L93.57,638.35 L95.10,633.02 L96.62,628.12 L98.15,623.60 L99.68,619.42 L101.21,615.54 L102.74,611.93 L104.26,608.56 L105.79,605.41 L107.32,602.46 L108.85,599.68 L110.37,597.08 L111.90,594.62 L113.43,592.30 L114.96,590.10 L116.48,588.02 L118.01,586.05 L119.54,584.18 L121.07,582.40 L122.60,580.71 L124.12,579.09 L125.65,577.55 L127.18,576.07 L128.71,574.66 L130.23,573.32 L131.76,572.02 L133.29,570.78 L134.82,569.59 L136.35,568.45 L137.87,567.35 L139.40,566.30 L140.93,565.28 L142.46,564.30 L143.98,563.35 L145.51,562.44 L147.04,561.56 L148.57,560.71 L150.10,559.89 L151.62,559.09 L153.15,558.32 L154.68,557.58 L156.21,556.86 L157.73,556.16 L159.26,555.48 L160.79,554.82 L162.32,554.18 L163.84,553.56 L165.37,552.96 L166.90,552.38 L168.43,551.81 L169.96,551.26 L171.48,550.72 L173.01,550.19 L174.54,549.68 L176.07,549.19 L177.59,548.70 L179.12,548.23 L180.65,547.77 L182.18,547.33 L183.71,546.89 L185.23,546.46 L186.76,546.04 L188.29,545.64 L189.82,545.24 L191.34,544.85 L192.87,544.47 L194.40,544.10 L195.93,543.74 L197.46,543.39 L198.98,543.04 L200.51,542.70 L202.04,542.37 L203.57,542.04 L205.09,541.72 L206.62,541.41 L208.15,541.11 L209.68,540.81 L211.21,540.52 L212.73,540.23 L214.26,539.95 L215.79,539.67 L217.32,539.40 L218.84,539.13 L220.37,538.87 L221.90,538.62 L223.43,538.37 L224.95,538.12 L226.48,537.88 L228.01,537.64 L229.54,537.41 L231.07,537.18 L232.59,536.95 L234.12,536.73 L235.65,536.51 L237.18,536.30 L238.70,536.09 L240.23,535.88 L241.76,535.68 L243.29,535.48 L244.82,535.28 L246.34,535.09 L247.87,534.90 L249.40,534.71 L250.93,534.53 L252.45,534.35 L253.98,534.17 L255.51,533.99 L257.04,533.82 L258.57,533.65 L260.09,533.48 L261.62,533.32 L263.15,533.16 L264.68,533.00 L266.20,532.84 L267.73,532.68 L269.26,532.53 L270.79,532.38 L272.31,532.23 L273.84,532.08 L275.37,531.94 L276.90,531.79 L278.43,531.65 L279.95,531.52 L281.48,531.38 L283.01,531.24 L284.54,531.11 L286.06,530.98 L287.59,530.85 L289.12,530.72 L290.65,530.59 L292.18,530.47 L293.70,530.35 L295.23,530.23 L296.76,530.11 L298.29,529.99 L299.81,529.87 L301.34,529.76 L302.87,529.64 L304.40,529.53 L305.93,529.42 L307.45,529.31 L308.98,529.20 L310.51,529.09 L312.04,528.99 L313.56,528.88 L315.09,528.78 L316.62,528.68 L318.15,528.58 L319.67,528.48 L321.20,528.38 L322.73,528.28 L324.26,528.18 L325.79,528.09 L327.31,528.00 L328.84,527.90 L330.37,527.81 L331.90,527.72 L333.42,527.63 L334.95,527.54 L336.48,527.45 L338.01,527.37 L339.54,527.28 L341.06,527.19 L342.59,527.11 L344.12,527.03 L345.65,526.95 L347.17,526.86 L348.70,526.78 L350.23,526.70 L351.76,526.62 L353.29,526.55 L354.81,526.47 L356.34,526.39 L357.87,526.32 L359.40,526.24 L360.92,526.17 L362.45,526.09 L363.98,526.02 L365.51,525.95 L367.03,525.88 L368.56,525.81 L370.09,525.74 L371.62,525.67 L373.15,525.60 L374.67,525.53 L376.20,525.46 L377.73,525.40 L379.26,525.33 L380.78,525.27 L382.31,525.20 L383.84,525.14 L385.37,525.07 L386.90,525.01 L388.42,524.95 L389.95,524.89 L391.48,524.83 L393.01,524.76 L394.53,524.70 L396.06,524.65 L397.59,524.59 L399.12,524.53 L400.65,524.47 L402.17,524.41 L403.70,524.36 L405.23,524.30 L406.76,524.24 L408.28,524.19 L409.81,524.13 L411.34,524.08 L412.87,524.02 L414.40,523.97 L415.92,523.92 L417.45,523.86 L418.98,523.81 L420.51,523.76 L422.03,523.71 L423.56,523.66 L425.09,523.61 L426.62,523.56 L428.14,523.51 L429.67,523.46 L431.20,523.41 L432.73,523.36 L434.26,523.31 L435.78,523.27 L437.31,523.22 L438.84,523.17 L440.37,523.13 L441.89,523.08 L443.42,523.03 L444.95,522.99 L446.48,522.94 L448.01,522.90 L449.53,522.85 L451.06,522.81 L452.59,522.77 L454.12,522.72 L455.64,522.68 L457.17,522.64 L458.70,522.60 L460.23,522.55 L461.76,522.51 L463.28,522.47 L464.81,522.43 L466.34,522.39 L467.87,522.35 L469.39,522.31 L470.92,522.27 L472.45,522.23 L473.98,522.19 L475.50,522.15 L477.03,522.11 L478.56,522.07 L480.09,522.03 L481.62,522.00 L483.14,521.96 L484.67,521.92 L486.20,521.89 L487.73,521.85 L489.25,521.81 L490.78,521.78 L492.31,521.74 L493.84,521.70 L495.37,521.67 L496.89,521.63 L498.42,521.60 L499.95,521.56 L501.48,521.53 L503.00,521.49 L504.53,521.46 L506.06,521.43 L507.59,521.39 L509.12,521.36 L510.64,521.33 L512.17,521.29 L513.70,521.26 L515.23,521.23 L516.75,521.20 L518.28,521.16 L519.81,521.13 L521.34,521.10 L522.86,521.07 L524.39,521.04 L525.92,521.01 L527.45,520.98 L528.98,520.95 L530.50,520.92 L532.03,520.88 L533.56,520.85 L535.09,520.83 L536.61,520.80 L538.14,520.77 L539.67,520.74 L541.20,520.71 L542.73,520.68 L544.25,520.65 L545.78,520.62 L547.31,520.59 L548.84,520.57 L550.36,520.54 L551.89,520.51 L553.42,520.48 L554.95,520.45 L556.48,520.43 L558.00,520.40 L559.53,520.37 L561.06,520.35 L562.59,520.32 L564.11,520.29 L565.64,520.27 L567.17,520.24 L568.70,520.21 L570.22,520.19 L571.75,520.16 L573.28,520.14 L574.81,520.11 L576.34,520.09 L577.86,520.06 L579.39,520.04 L580.92,520.01 L582.45,519.99 L583.97,519.96 L585.50,519.94 L587.03,519.91 L588.56,519.89 L590.09,519.87 L591.61,519.84 L593.14,519.82 L594.67,519.79 L596.20,519.77 L597.72,519.75 L599.25,519.72 L600.78,519.70 L602.31,519.68 L603.84,519.66 L605.36,519.63 L606.89,519.61 L608.42,519.59 L609.95,519.57 L611.47,519.54 L613.00,519.52 L614.53,519.50 L616.06,519.48 L617.59,519.46 L619.11,519.44 L620.64,519.41 L622.17,519.39 L623.70,519.37 L625.22,519.35 L626.75,519.33 L628.28,519.31 L629.81,519.29 L631.33,519.27 L632.86,519.25 L634.39,519.23 L635.92,519.21 L637.45,519.19 L638.97,519.17 L640.50,519.15 L642.03,519.13 L643.56,519.11 L645.08,519.09 L646.61,519.07 L648.14,519.05 L649.67,519.03 L651.20,519.01 L652.72,518.99 L654.25,518.97 L655.78,518.95 L657.31,518.93 L658.83,518.91 L660.36,518.90 L661.89,518.88 L663.42,518.86 L664.95,518.84 L666.47,518.82 L668.00,518.80 L669.53,518.79 L671.06,518.77 L672.58,518.75 L674.11,518.73 L675.64,518.71 L677.17,518.70 L678.69,518.68 L680.22,518.66 L681.75,518.64 L683.28,518.63 L684.81,518.61 L686.33,518.59 L687.86,518.57 L689.39,518.56 L690.92,518.54 L692.44,518.52 L693.97,518.51 L695.50,518.49" class="k rc" stroke-width="4" stroke-dasharray="29 18" stroke-dashoffset="34.10"/>
<path d="M70.30,893.80 L70.38,835.74 L70.46,813.60 L70.54,799.64 L70.61,789.42 L70.69,781.36 L70.77,774.70 L70.85,769.02 L70.93,764.08 L71.01,759.70 L71.09,755.77 L71.16,752.20 L71.24,748.94 L71.32,745.93 L71.40,743.14 L71.48,740.54 L71.56,738.11 L71.64,735.82 L71.71,733.65 L71.79,731.61 L71.87,729.67 L71.95,727.82 L72.03,726.05 L72.11,724.36 L72.19,722.75 L72.26,721.20 L72.34,719.71 L72.42,718.27 L72.50,716.89 L72.58,715.55 L72.66,714.26 L72.73,713.02 L72.81,711.81 L72.89,710.63 L72.97,709.50 L73.05,708.39 L73.13,707.32 L73.21,706.27 L73.28,705.26 L73.36,704.26 L73.44,703.30 L73.52,702.36 L73.60,701.44 L73.68,700.54 L73.76,699.66 L73.83,698.80 L73.91,697.96 L73.99,697.14 L74.07,696.34 L74.15,695.55 L74.23,694.78 L74.31,694.02 L74.38,693.28 L74.46,692.55 L74.54,691.84 L74.62,691.14 L74.70,690.45 L74.78,689.77 L74.86,689.10 L74.93,688.45 L75.01,687.81 L75.09,687.18 L75.17,686.55 L75.25,685.94 L75.33,685.34 L75.41,684.75 L75.48,684.16 L75.56,683.59 L75.64,683.02 L75.72,682.46 L75.80,681.91 L75.88,681.37 L75.96,680.83 L76.03,680.30 L76.11,679.78 L76.19,679.27 L76.27,678.76 L76.35,678.26 L76.43,677.77 L76.50,677.28 L76.58,676.80 L76.66,676.32 L76.74,675.85 L76.82,675.39 L76.90,674.93 L76.98,674.48 L77.05,674.03 L77.13,673.59 L77.21,673.15 L77.29,672.72 L77.37,672.29 L77.45,671.86 L77.53,671.45 L77.60,671.03 L77.68,670.62 L77.76,670.22 L77.84,669.81 L77.92,669.42 L78.00,669.02 L78.08,668.64 L78.15,668.25 L78.23,667.87 L78.31,667.49 L78.39,667.12 L78.47,666.75 L78.55,666.38 L78.63,666.02 L78.70,665.66 L78.78,665.30 L78.86,664.95 L78.94,664.60 L79.02,664.25 L79.10,663.91 L79.18,663.57 L79.25,663.23 L79.33,662.89 L79.41,662.56 L79.49,662.23 L79.57,661.91 L79.65,661.58 L79.73,661.26 L79.80,660.94 L79.88,660.63 L79.96,660.32 L80.04,660.01 L80.12,659.70 L80.20,659.39 L80.27,659.09 L80.35,658.79 L80.43,658.49 L80.51,658.19 L80.59,657.90 L80.67,657.61 L80.75,657.32 L80.82,657.03 L80.90,656.75 L80.98,656.46 L81.06,656.18 L81.14,655.90 L81.22,655.63 L81.30,655.35 L81.37,655.08 L81.45,654.81 L81.53,654.54 L81.61,654.27 L81.69,654.01 L81.77,653.74 L81.85,653.48 L81.92,653.22 L82.00,652.96 L82.08,652.71 L82.16,652.45 L82.24,652.20 L82.32,651.95 L82.40,651.70 L82.47,651.45 L82.55,651.20 L82.63,650.96 L82.71,650.71 L82.79,650.47 L82.87,650.23 L82.95,649.99 L83.02,649.75 L83.10,649.52 L83.18,649.28 L83.26,649.05 L83.34,648.82 L83.42,648.59 L83.50,648.36 L83.57,648.13 L83.65,647.90 L83.73,647.68 L83.81,647.46 L83.89,647.23 L83.97,647.01 L84.04,646.79 L84.12,646.57 L84.20,646.36 L84.28,646.14 L84.36,645.93 L84.44,645.71 L84.52,645.50 L84.59,645.29 L84.67,645.08 L84.75,644.87 L84.83,644.66 L84.91,644.45 L84.99,644.25 L85.07,644.04 L85.14,643.84 L85.22,643.64 L85.30,643.44 L85.38,643.24 L85.46,643.04 L85.54,642.84 L85.62,642.64 L85.69,642.44 L85.77,642.25 L85.85,642.05 L85.93,641.86 L87.46,638.28 L88.99,635.01 L90.51,631.99 L92.04,629.20 L93.57,626.59 L95.10,624.15 L96.62,621.85 L98.15,619.69 L99.68,617.63 L101.21,615.69 L102.74,613.84 L104.26,612.07 L105.79,610.38 L107.32,608.76 L108.85,607.21 L110.37,605.71 L111.90,604.28 L113.43,602.89 L114.96,601.55 L116.48,600.26 L118.01,599.01 L119.54,597.80 L121.07,596.63 L122.60,595.49 L124.12,594.38 L125.65,593.31 L127.18,592.26 L128.71,591.24 L130.23,590.25 L131.76,589.29 L133.29,588.34 L134.82,587.42 L136.35,586.52 L137.87,585.64 L139.40,584.79 L140.93,583.95 L142.46,583.12 L143.98,582.32 L145.51,581.53 L147.04,580.76 L148.57,580.00 L150.10,579.26 L151.62,578.53 L153.15,577.81 L154.68,577.11 L156.21,576.42 L157.73,575.75 L159.26,575.08 L160.79,574.43 L162.32,573.78 L163.84,573.15 L165.37,572.53 L166.90,571.92 L168.43,571.31 L169.96,570.72 L171.48,570.13 L173.01,569.56 L174.54,568.99 L176.07,568.43 L177.59,567.88 L179.12,567.34 L180.65,566.80 L182.18,566.27 L183.71,565.75 L185.23,565.24 L186.76,564.73 L188.29,564.23 L189.82,563.74 L191.34,563.25 L192.87,562.77 L194.40,562.29 L195.93,561.82 L197.46,561.36 L198.98,560.90 L200.51,560.44 L202.04,560.00 L203.57,559.55 L205.09,559.12 L206.62,558.68 L208.15,558.25 L209.68,557.83 L211.21,557.41 L212.73,557.00 L214.26,556.59 L215.79,556.18 L217.32,555.78 L218.84,555.38 L220.37,554.99 L221.90,554.60 L223.43,554.22 L224.95,553.83 L226.48,553.46 L228.01,553.08 L229.54,552.71 L231.07,552.35 L232.59,551.98 L234.12,551.62 L235.65,551.27 L237.18,550.91 L238.70,550.56 L240.23,550.21 L241.76,549.87 L243.29,549.53 L244.82,549.19 L246.34,548.86 L247.87,548.53 L249.40,548.20 L250.93,547.87 L252.45,547.55 L253.98,547.23 L255.51,546.91 L257.04,546.59 L258.57,546.28 L260.09,545.97 L261.62,545.66 L263.15,545.35 L264.68,545.05 L266.20,544.75 L267.73,544.45 L269.26,544.16 L270.79,543.86 L272.31,543.57 L273.84,543.28 L275.37,542.99 L276.90,542.71 L278.43,542.42 L279.95,542.14 L281.48,541.86 L283.01,541.59 L284.54,541.31 L286.06,541.04 L287.59,540.77 L289.12,540.50 L290.65,540.23 L292.18,539.97 L293.70,539.70 L295.23,539.44 L296.76,539.18 L298.29,538.92 L299.81,538.67 L301.34,538.41 L302.87,538.16 L304.40,537.91 L305.93,537.66 L307.45,537.41 L308.98,537.16 L310.51,536.92 L312.04,536.67 L313.56,536.43 L315.09,536.19 L316.62,535.95 L318.15,535.71 L319.67,535.48 L321.20,535.24 L322.73,535.01 L324.26,534.78 L325.79,534.55 L327.31,534.32 L328.84,534.09 L330.37,533.86 L331.90,533.64 L333.42,533.42 L334.95,533.19 L336.48,532.97 L338.01,532.75 L339.54,532.53 L341.06,532.32 L342.59,532.10 L344.12,531.88 L345.65,531.67 L347.17,531.46 L348.70,531.25 L350.23,531.04 L351.76,530.83 L353.29,530.62 L354.81,530.41 L356.34,530.21 L357.87,530.00 L359.40,529.80 L360.92,529.60 L362.45,529.39 L363.98,529.19 L365.51,528.99 L367.03,528.80 L368.56,528.60 L370.09,528.40 L371.62,528.21 L373.15,528.01 L374.67,527.82 L376.20,527.63 L377.73,527.44 L379.26,527.25 L380.78,527.06 L382.31,526.87 L383.84,526.68 L385.37,526.49 L386.90,526.31 L388.42,526.12 L389.95,525.94 L391.48,525.75 L393.01,525.57 L394.53,525.39 L396.06,525.21 L397.59,525.03 L399.12,524.85 L400.65,524.67 L402.17,524.50 L403.70,524.32 L405.23,524.14 L406.76,523.97 L408.28,523.79 L409.81,523.62 L411.34,523.45 L412.87,523.28 L414.40,523.11 L415.92,522.94 L417.45,522.77 L418.98,522.60 L420.51,522.43 L422.03,522.26 L423.56,522.10 L425.09,521.93 L426.62,521.76 L428.14,521.60 L429.67,521.44 L431.20,521.27 L432.73,521.11 L434.26,520.95 L435.78,520.79 L437.31,520.63 L438.84,520.47 L440.37,520.31 L441.89,520.15 L443.42,519.99 L444.95,519.84 L446.48,519.68 L448.01,519.52 L449.53,519.37 L451.06,519.22 L452.59,519.06 L454.12,518.91 L455.64,518.76 L457.17,518.60 L458.70,518.45 L460.23,518.30 L461.76,518.15 L463.28,518.00 L464.81,517.85 L466.34,517.70 L467.87,517.56 L469.39,517.41 L470.92,517.26 L472.45,517.12 L473.98,516.97 L475.50,516.82 L477.03,516.68 L478.56,516.54 L480.09,516.39 L481.62,516.25 L483.14,516.11 L484.67,515.96 L486.20,515.82 L487.73,515.68 L489.25,515.54 L490.78,515.40 L492.31,515.26 L493.84,515.12 L495.37,514.99 L496.89,514.85 L498.42,514.71 L499.95,514.57 L501.48,514.44 L503.00,514.30 L504.53,514.17 L506.06,514.03 L507.59,513.90 L509.12,513.76 L510.64,513.63 L512.17,513.50 L513.70,513.36 L515.23,513.23 L516.75,513.10 L518.28,512.97 L519.81,512.84 L521.34,512.71 L522.86,512.58 L524.39,512.45 L525.92,512.32 L527.45,512.19 L528.98,512.06 L530.50,511.93 L532.03,511.81 L533.56,511.68 L535.09,511.55 L536.61,511.43 L538.14,511.30 L539.67,511.18 L541.20,511.05 L542.73,510.93 L544.25,510.80 L545.78,510.68 L547.31,510.56 L548.84,510.43 L550.36,510.31 L551.89,510.19 L553.42,510.07 L554.95,509.95 L556.48,509.82 L558.00,509.70 L559.53,509.58 L561.06,509.46 L562.59,509.34 L564.11,509.23 L565.64,509.11 L567.17,508.99 L568.70,508.87 L570.22,508.75 L571.75,508.64 L573.28,508.52 L574.81,508.40 L576.34,508.29 L577.86,508.17 L579.39,508.05 L580.92,507.94 L582.45,507.82 L583.97,507.71 L585.50,507.60 L587.03,507.48 L588.56,507.37 L590.09,507.26 L591.61,507.14 L593.14,507.03 L594.67,506.92 L596.20,506.81 L597.72,506.70 L599.25,506.58 L600.78,506.47 L602.31,506.36 L603.84,506.25 L605.36,506.14 L606.89,506.03 L608.42,505.92 L609.95,505.81 L611.47,505.71 L613.00,505.60 L614.53,505.49 L616.06,505.38 L617.59,505.27 L619.11,505.17 L620.64,505.06 L622.17,504.95 L623.70,504.85 L625.22,504.74 L626.75,504.64 L628.28,504.53 L629.81,504.43 L631.33,504.32 L632.86,504.22 L634.39,504.11 L635.92,504.01 L637.45,503.90 L638.97,503.80 L640.50,503.70 L642.03,503.60 L643.56,503.49 L645.08,503.39 L646.61,503.29 L648.14,503.19 L649.67,503.09 L651.20,502.98 L652.72,502.88 L654.25,502.78 L655.78,502.68 L657.31,502.58 L658.83,502.48 L660.36,502.38 L661.89,502.28 L663.42,502.18 L664.95,502.09 L666.47,501.99 L668.00,501.89 L669.53,501.79 L671.06,501.69 L672.58,501.59 L674.11,501.50 L675.64,501.40 L677.17,501.30 L678.69,501.21 L680.22,501.11 L681.75,501.01 L683.28,500.92 L684.81,500.82 L686.33,500.73 L687.86,500.63 L689.39,500.54 L690.92,500.44 L692.44,500.35 L693.97,500.25 L695.50,500.16" class="k rc" stroke-width="4.4" stroke-dasharray="10 7" stroke-dashoffset="4.90"/>
<path d="M70.30,893.80 L70.38,840.58 L70.46,827.23 L70.54,818.09 L70.61,810.95 L70.69,805.02 L70.77,799.91 L70.85,795.40 L70.93,791.35 L71.01,787.67 L71.09,784.28 L71.16,781.15 L71.24,778.22 L71.32,775.48 L71.40,772.89 L71.48,770.45 L71.56,768.13 L71.64,765.92 L71.71,763.81 L71.79,761.79 L71.87,759.86 L71.95,758.00 L72.03,756.20 L72.11,754.48 L72.19,752.81 L72.26,751.19 L72.34,749.63 L72.42,748.12 L72.50,746.65 L72.58,745.22 L72.66,743.83 L72.73,742.48 L72.81,741.17 L72.89,739.88 L72.97,738.63 L73.05,737.41 L73.13,736.22 L73.21,735.06 L73.28,733.92 L73.36,732.80 L73.44,731.71 L73.52,730.64 L73.60,729.59 L73.68,728.57 L73.76,727.56 L73.83,726.57 L73.91,725.61 L73.99,724.65 L74.07,723.72 L74.15,722.80 L74.23,721.90 L74.31,721.01 L74.38,720.14 L74.46,719.28 L74.54,718.44 L74.62,717.60 L74.70,716.79 L74.78,715.98 L74.86,715.19 L74.93,714.40 L75.01,713.63 L75.09,712.87 L75.17,712.12 L75.25,711.38 L75.33,710.66 L75.41,709.94 L75.48,709.23 L75.56,708.53 L75.64,707.84 L75.72,707.15 L75.80,706.48 L75.88,705.81 L75.96,705.16 L76.03,704.51 L76.11,703.87 L76.19,703.23 L76.27,702.61 L76.35,701.99 L76.43,701.37 L76.50,700.77 L76.58,700.17 L76.66,699.58 L76.74,698.99 L76.82,698.41 L76.90,697.84 L76.98,697.27 L77.05,696.71 L77.13,696.16 L77.21,695.61 L77.29,695.06 L77.37,694.52 L77.45,693.99 L77.53,693.46 L77.60,692.94 L77.68,692.42 L77.76,691.91 L77.84,691.40 L77.92,690.90 L78.00,690.40 L78.08,689.90 L78.15,689.41 L78.23,688.93 L78.31,688.45 L78.39,687.97 L78.47,687.50 L78.55,687.03 L78.63,686.57 L78.70,686.10 L78.78,685.65 L78.86,685.20 L78.94,684.75 L79.02,684.30 L79.10,683.86 L79.18,683.42 L79.25,682.99 L79.33,682.56 L79.41,682.13 L79.49,681.70 L79.57,681.28 L79.65,680.87 L79.73,680.45 L79.80,680.04 L79.88,679.63 L79.96,679.23 L80.04,678.83 L80.12,678.43 L80.20,678.03 L80.27,677.64 L80.35,677.25 L80.43,676.86 L80.51,676.47 L80.59,676.09 L80.67,675.71 L80.75,675.34 L80.82,674.96 L80.90,674.59 L80.98,674.22 L81.06,673.86 L81.14,673.49 L81.22,673.13 L81.30,672.77 L81.37,672.42 L81.45,672.06 L81.53,671.71 L81.61,671.36 L81.69,671.01 L81.77,670.67 L81.85,670.33 L81.92,669.99 L82.00,669.65 L82.08,669.31 L82.16,668.98 L82.24,668.64 L82.32,668.31 L82.40,667.99 L82.47,667.66 L82.55,667.34 L82.63,667.01 L82.71,666.69 L82.79,666.38 L82.87,666.06 L82.95,665.74 L83.02,665.43 L83.10,665.12 L83.18,664.81 L83.26,664.51 L83.34,664.20 L83.42,663.90 L83.50,663.59 L83.57,663.29 L83.65,663.00 L83.73,662.70 L83.81,662.40 L83.89,662.11 L83.97,661.82 L84.04,661.53 L84.12,661.24 L84.20,660.95 L84.28,660.67 L84.36,660.38 L84.44,660.10 L84.52,659.82 L84.59,659.54 L84.67,659.26 L84.75,658.99 L84.83,658.71 L84.91,658.44 L84.99,658.16 L85.07,657.89 L85.14,657.62 L85.22,657.36 L85.30,657.09 L85.38,656.82 L85.46,656.56 L85.54,656.30 L85.62,656.04 L85.69,655.78 L85.77,655.52 L85.85,655.26 L85.93,655.00 L87.46,650.25 L88.99,646.48 L90.51,644.19 L92.04,641.91 L93.57,639.62 L95.10,637.34 L96.62,635.06 L98.15,632.77 L99.68,630.49 L101.21,628.20 L102.74,625.92 L104.26,623.64 L105.79,621.35 L107.32,619.27 L108.85,617.54 L110.37,615.82 L111.90,614.10 L113.43,612.37 L114.96,610.65 L116.48,608.93 L118.01,607.20 L119.54,605.48 L121.07,603.75 L122.60,602.03 L124.12,600.31 L125.65,598.81 L127.18,597.62 L128.71,596.43 L130.23,595.24 L131.76,594.05 L133.29,592.85 L134.82,591.66 L136.35,590.47 L137.87,589.28 L139.40,588.09 L140.93,586.90 L142.46,585.71 L143.98,584.65 L145.51,583.73 L147.04,582.81 L148.57,581.89 L150.10,580.97 L151.62,580.05 L153.15,579.13 L154.68,578.21 L156.21,577.29 L157.73,576.37 L159.26,575.45 L160.79,574.53 L162.32,573.71 L163.84,572.98 L165.37,572.24 L166.90,571.50 L168.43,570.76 L169.96,570.03 L171.48,569.29 L173.01,568.55 L174.54,567.81 L176.07,567.08 L177.59,566.34 L179.12,565.60 L180.65,564.96 L182.18,564.38 L183.71,563.80 L185.23,563.22 L186.76,562.64 L188.29,562.05 L189.82,561.47 L191.34,560.89 L192.87,560.31 L194.40,559.73 L195.93,559.15 L197.46,558.57 L198.98,558.07 L200.51,557.60 L202.04,557.14 L203.57,556.67 L205.09,556.21 L206.62,555.75 L208.15,555.28 L209.68,554.82 L211.21,554.35 L212.73,553.89 L214.26,553.42 L215.79,552.96 L217.32,552.53 L218.84,552.12 L220.37,551.70 L221.90,551.29 L223.43,550.87 L224.95,550.46 L226.48,550.04 L228.01,549.63 L229.54,549.21 L231.07,548.80 L232.59,548.38 L234.12,547.97 L235.65,547.59 L237.18,547.21 L238.70,546.84 L240.23,546.46 L241.76,546.09 L243.29,545.72 L244.82,545.34 L246.34,544.97 L247.87,544.59 L249.40,544.22 L250.93,543.85 L252.45,543.47 L253.98,543.17 L255.51,542.88 L257.04,542.58 L258.57,542.29 L260.09,542.00 L261.62,541.70 L263.15,541.41 L264.68,541.11 L266.20,540.82 L267.73,540.53 L269.26,540.23 L270.79,539.94 L272.31,539.65 L273.84,539.36 L275.37,539.07 L276.90,538.78 L278.43,538.49 L279.95,538.20 L281.48,537.91 L283.01,537.62 L284.54,537.33 L286.06,537.04 L287.59,536.75 L289.12,536.46 L290.65,536.11 L292.18,535.76 L293.70,535.41 L295.23,535.06 L296.76,534.71 L298.29,534.36 L299.81,534.01 L301.34,533.67 L302.87,533.32 L304.40,532.97 L305.93,532.62 L307.45,532.27 L308.98,531.90 L310.51,531.53 L312.04,531.17 L313.56,530.80 L315.09,530.43 L316.62,530.07 L318.15,529.70 L319.67,529.33 L321.20,528.97 L322.73,528.60 L324.26,528.24 L325.79,527.87 L327.31,527.54 L328.84,527.20 L330.37,526.86 L331.90,526.52 L333.42,526.19 L334.95,525.85 L336.48,525.51 L338.01,525.18 L339.54,524.84 L341.06,524.50 L342.59,524.17 L344.12,523.85 L345.65,523.61 L347.17,523.36 L348.70,523.12 L350.23,522.88 L351.76,522.64 L353.29,522.40 L354.81,522.16 L356.34,521.92 L357.87,521.67 L359.40,521.43 L360.92,521.19 L362.45,520.97 L363.98,520.82 L365.51,520.66 L367.03,520.50 L368.56,520.35 L370.09,520.19 L371.62,520.03 L373.15,519.88 L374.67,519.72 L376.20,519.56 L377.73,519.41 L379.26,519.25 L380.78,519.10 L382.31,518.94 L383.84,518.79 L385.37,518.64 L386.90,518.49 L388.42,518.34 L389.95,518.19 L391.48,518.04 L393.01,517.89 L394.53,517.74 L396.06,517.58 L397.59,517.43 L399.12,517.28 L400.65,517.13 L402.17,516.98 L403.70,516.83 L405.23,516.68 L406.76,516.53 L408.28,516.38 L409.81,516.23 L411.34,516.09 L412.87,515.94 L414.40,515.79 L415.92,515.64 L417.45,515.50 L418.98,515.38 L420.51,515.27 L422.03,515.15 L423.56,515.03 L425.09,514.91 L426.62,514.79 L428.14,514.68 L429.67,514.56 L431.20,514.44 L432.73,514.32 L434.26,514.21 L435.78,514.11 L437.31,514.04 L438.84,513.96 L440.37,513.89 L441.89,513.81 L443.42,513.74 L444.95,513.66 L446.48,513.59 L448.01,513.52 L449.53,513.44 L451.06,513.37 L452.59,513.29 L454.12,513.23 L455.64,513.18 L457.17,513.12 L458.70,513.07 L460.23,513.02 L461.76,512.97 L463.28,512.91 L464.81,512.86 L466.34,512.81 L467.87,512.75 L469.39,512.70 L470.92,512.65 L472.45,512.61 L473.98,512.58 L475.50,512.56 L477.03,512.53 L478.56,512.50 L480.09,512.48 L481.62,512.45 L483.14,512.43 L484.67,512.40 L486.20,512.37 L487.73,512.35 L489.25,512.32 L490.78,512.31 L492.31,512.31 L493.84,512.31 L495.37,512.31 L496.89,512.31 L498.42,512.31 L499.95,512.31 L501.48,512.31 L503.00,512.31 L504.53,512.31 L506.06,512.31 L507.59,512.31 L509.12,512.31 L510.64,512.31 L512.17,512.31 L513.70,512.31 L515.23,512.31 L516.75,512.31 L518.28,512.31 L519.81,512.31 L521.34,512.31 L522.86,512.31 L524.39,512.31 L525.92,512.31 L527.45,512.31 L528.98,512.30 L530.50,512.30 L532.03,512.29 L533.56,512.29 L535.09,512.28 L536.61,512.28 L538.14,512.27 L539.67,512.26 L541.20,512.26 L542.73,512.25 L544.25,512.25 L545.78,512.24 L547.31,512.23 L548.84,512.22 L550.36,512.21 L551.89,512.20 L553.42,512.19 L554.95,512.17 L556.48,512.16 L558.00,512.15 L559.53,512.14 L561.06,512.13 L562.59,512.12 L564.11,512.12 L565.64,512.11 L567.17,512.11 L568.70,512.10 L570.22,512.10 L571.75,512.09 L573.28,512.08 L574.81,512.08 L576.34,512.07 L577.86,512.07 L579.39,512.06 L580.92,512.06 L582.45,512.06 L583.97,512.06 L585.50,512.06 L587.03,512.06 L588.56,512.06 L590.09,512.06 L591.61,512.06 L593.14,512.06 L594.67,512.06 L596.20,512.06 L597.72,512.06 L599.25,512.06 L600.78,512.06 L602.31,512.06 L603.84,512.06 L605.36,512.06 L606.89,512.06 L608.42,512.06 L609.95,512.06 L611.47,512.06 L613.00,512.06 L614.53,512.06 L616.06,512.06 L617.59,512.06 L619.11,512.06 L620.64,512.06 L622.17,512.06 L623.70,512.06 L625.22,512.06 L626.75,512.06 L628.28,512.06 L629.81,512.06 L631.33,512.06 L632.86,512.06 L634.39,512.06 L635.92,512.06 L637.45,512.06 L638.97,512.06 L640.50,512.06 L642.03,512.06 L643.56,512.06 L645.08,512.06 L646.61,512.06 L648.14,512.06 L649.67,512.06 L651.20,512.06 L652.72,512.06 L654.25,512.06 L655.78,512.06 L657.31,512.06 L658.83,512.06 L660.36,512.06 L661.89,512.06 L663.42,512.06 L664.95,512.06 L666.47,512.06 L668.00,512.06 L669.53,512.06 L671.06,512.06 L672.58,512.06 L674.11,512.06 L675.64,512.06 L677.17,512.06 L678.69,512.06 L680.22,512.06 L681.75,512.06 L683.28,512.06 L684.81,512.06 L686.33,512.06 L687.86,512.06 L689.39,512.06 L690.92,512.06 L692.44,512.06 L693.97,512.06 L695.50,512.06" class="k" stroke-width="2.8"/>
<path d="M70.78,805.09h.01 M70.85,798.59h.01 M70.94,792.09h.01 M71.05,785.59h.01 M71.17,779.09h.01 M71.31,772.60h.01 M71.48,766.10h.01 M71.67,759.60h.01 M71.89,753.10h.01 M72.15,746.61h.01 M72.46,740.12h.01 M72.81,733.63h.01 M73.21,727.14h.01 M73.69,720.66h.01 M74.24,714.18h.01 M74.87,707.71h.01 M75.61,701.25h.01 M76.47,694.81h.01 M77.47,688.39h.01 M78.61,681.99h.01 M79.94,675.63h.01 M81.46,669.31h.01 M83.21,663.05h.01 M85.20,656.86h.01 M87.46,650.77h.01 M90.03,644.80h.01 M92.89,638.96h.01 M96.07,633.29h.01 M99.55,627.81h.01 M103.37,622.54h.01 M107.47,617.50h.01 M111.85,612.70h.01 M116.48,608.15h.01 M121.35,603.84h.01 M126.41,599.76h.01 M131.65,595.92h.01 M137.04,592.29h.01 M142.57,588.86h.01 M148.21,585.63h.01 M153.94,582.57h.01 M159.76,579.67h.01 M165.65,576.93h.01 M171.60,574.32h.01 M177.61,571.84h.01 M183.67,569.47h.01 M189.76,567.22h.01 M195.90,565.06h.01 M202.06,563.00h.01 M208.25,561.02h.01 M214.47,559.12h.01 M220.71,557.30h.01 M226.96,555.54h.01 M233.24,553.85h.01 M239.53,552.22h.01 M245.84,550.64h.01 M252.16,549.12h.01 M258.49,547.65h.01 M264.83,546.22h.01 M271.18,544.84h.01 M277.54,543.50h.01 M283.91,542.19h.01 M290.28,540.93h.01 M296.67,539.69h.01 M303.05,538.50h.01 M309.45,537.33h.01 M315.85,536.19h.01 M322.25,535.08h.01 M328.66,534.00h.01 M335.08,532.94h.01 M341.49,531.91h.01 M347.92,530.91h.01 M354.34,529.92h.01 M360.77,528.96h.01 M367.20,528.01h.01 M373.63,527.09h.01 M380.07,526.19h.01 M386.51,525.30h.01 M392.95,524.43h.01 M399.40,523.58h.01 M405.84,522.74h.01 M412.29,521.92h.01 M418.74,521.12h.01 M425.19,520.33h.01 M431.65,519.55h.01 M438.10,518.79h.01 M444.56,518.04h.01 M451.02,517.31h.01 M457.47,516.58h.01 M463.94,515.87h.01 M470.40,515.17h.01 M476.86,514.48h.01 M483.33,513.80h.01 M489.79,513.13h.01 M496.26,512.47h.01 M502.72,511.82h.01 M509.19,511.18h.01 M515.66,510.55h.01 M522.13,509.93h.01 M528.60,509.32h.01 M535.08,508.71h.01 M541.55,508.12h.01 M548.02,507.53h.01 M554.50,506.95h.01 M560.97,506.38h.01 M567.45,505.81h.01 M573.92,505.26h.01 M580.40,504.71h.01 M586.88,504.16h.01 M593.35,503.63h.01 M599.83,503.10h.01 M606.31,502.57h.01 M612.79,502.06h.01 M619.27,501.54h.01 M625.75,501.04h.01 M632.23,500.54h.01 M638.71,500.05h.01 M645.19,499.56h.01 M651.68,499.07h.01 M658.16,498.60h.01 M664.64,498.12h.01 M671.12,497.66h.01 M677.61,497.20h.01 M684.09,496.74h.01" class="bd bb" stroke="#4472c4"/>
</g>
<circle cx="70.3" cy="854.8" r="8.5" fill="#4f81bd"/>
<circle cx="88.5" cy="647.1" r="8.5" fill="#4f81bd"/>
<circle cx="106.8" cy="617.4" r="8.5" fill="#4f81bd"/>
<circle cx="125.0" cy="597.5" r="8.5" fill="#4f81bd"/>
<circle cx="143.2" cy="584.8" r="8.5" fill="#4f81bd"/>
<circle cx="161.5" cy="573.4" r="8.5" fill="#4f81bd"/>
<circle cx="179.7" cy="565.0" r="8.5" fill="#4f81bd"/>
<circle cx="197.9" cy="557.9" r="8.5" fill="#4f81bd"/>
<circle cx="216.2" cy="552.7" r="8.5" fill="#4f81bd"/>
<circle cx="234.4" cy="548.0" r="8.5" fill="#4f81bd"/>
<circle cx="252.6" cy="542.8" r="8.5" fill="#4f81bd"/>
<circle cx="270.9" cy="540.1" r="8.5" fill="#4f81bd"/>
<circle cx="289.1" cy="536.7" r="8.5" fill="#4f81bd"/>
<circle cx="307.4" cy="532.3" r="8.5" fill="#4f81bd"/>
<circle cx="325.6" cy="527.8" r="8.5" fill="#4f81bd"/>
<circle cx="343.8" cy="523.7" r="8.5" fill="#4f81bd"/>
<circle cx="362.1" cy="520.3" r="8.5" fill="#4f81bd"/>
<circle cx="380.3" cy="519.7" r="8.5" fill="#4f81bd"/>
<circle cx="398.5" cy="516.9" r="8.5" fill="#4f81bd"/>
<circle cx="416.8" cy="515.9" r="8.5" fill="#4f81bd"/>
<circle cx="435.0" cy="513.6" r="8.5" fill="#4f81bd"/>
<circle cx="453.2" cy="513.6" r="8.5" fill="#4f81bd"/>
<circle cx="471.5" cy="512.3" r="8.5" fill="#4f81bd"/>
<circle cx="489.7" cy="512.7" r="8.5" fill="#4f81bd"/>
<circle cx="507.9" cy="512.7" r="8.5" fill="#4f81bd"/>
<circle cx="526.2" cy="512.7" r="8.5" fill="#4f81bd"/>
<circle cx="544.4" cy="512.7" r="8.5" fill="#4f81bd"/>
<circle cx="562.6" cy="512.1" r="8.5" fill="#4f81bd"/>
<circle cx="580.9" cy="512.1" r="8.5" fill="#4f81bd"/>
<circle cx="599.1" cy="513.1" r="8.5" fill="#4f81bd"/>
<circle cx="617.4" cy="513.8" r="8.5" fill="#4f81bd"/>
<circle cx="635.6" cy="515.1" r="8.5" fill="#4f81bd"/>
<circle cx="653.8" cy="513.8" r="8.5" fill="#4f81bd"/>
<circle cx="672.1" cy="513.8" r="8.5" fill="#4f81bd"/>
<circle cx="690.3" cy="514.3" r="8.5" fill="#4f81bd"/>
<text x="53.6" y="900.2" class="tkb" text-anchor="end">0</text>
<text x="53.6" y="849.5" class="tkb" text-anchor="end">0.2</text>
<text x="53.6" y="798.9" class="tkb" text-anchor="end">0.4</text>
<text x="53.6" y="748.2" class="tkb" text-anchor="end">0.6</text>
<text x="53.6" y="697.5" class="tkb" text-anchor="end">0.8</text>
<text x="53.6" y="646.9" class="tkb" text-anchor="end">1</text>
<text x="53.6" y="596.2" class="tkb" text-anchor="end">1.2</text>
<text x="53.6" y="545.6" class="tkb" text-anchor="end">1.4</text>
<text x="53.6" y="494.9" class="tkb" text-anchor="end">1.6</text>
<text x="70.3" y="922" class="tkb" text-anchor="middle">0</text>
<text x="148.4" y="922" class="tkb" text-anchor="middle">5</text>
<text x="226.6" y="922" class="tkb" text-anchor="middle">10</text>
<text x="304.8" y="922" class="tkb" text-anchor="middle">15</text>
<text x="382.9" y="922" class="tkb" text-anchor="middle">20</text>
<text x="461.1" y="922" class="tkb" text-anchor="middle">25</text>
<text x="539.2" y="922" class="tkb" text-anchor="middle">30</text>
<text x="617.4" y="922" class="tkb" text-anchor="middle">35</text>
<text x="695.5" y="922" class="tkb" text-anchor="middle">40</text>
<text x="384" y="945.2" class="tib" text-anchor="middle">Time (min)</text>
<text transform="translate(17.7,690.8) rotate(-90)" class="tib" text-anchor="middle">q (mg/g)</text>
<text x="96.6" y="524.8" class="lab" style="font-size:32px">(b)</text>
<text x="119" y="822.3" class="condb">T=25 °C</text>
<text x="119" y="849.3" class="condb">P= 7 bar</text>
<rect x="388.7" y="729.5" width="284.9" height="155.5" fill="#fff" stroke="#4a7ebb" stroke-width="2.1"/>
<text x="469.6" y="746.7" class="lgb">Experimental</text>
<text x="469.6" y="769.2" class="lgb">First Order</text>
<text x="469.6" y="791.5" class="lgb">Second Order</text>
<text x="469.6" y="813.6" class="lgb">Elovich</text>
<text x="469.6" y="835.8" class="lgb">Fractional Order</text>
<text x="469.6" y="858.5" class="lgb">Linear (Experimental)</text>
<text x="469.6" y="880.8" class="lgb">Log. (Experimental)</text>
<circle cx="434.9" cy="740.3" r="6" fill="#4f81bd"/>
<path d="M407.70,762.80h.01 M416.40,762.80h.01 M425.10,762.80h.01 M433.80,762.80h.01 M442.50,762.80h.01 M451.20,762.80h.01 M459.90,762.80h.01" class="dot" style="stroke-width:4.1;stroke-dasharray:none"/>
<path d="M408,785.1 H437.5 M455,785.1 H462" class="k rc" stroke-width="4"/>
<path d="M408.2,807.2 H462" class="k rc" stroke-width="4.3" stroke-dasharray="7.6 7.8"/>
<path d="M406,829.4 H463.5" class="k" stroke-width="2.5"/>
<path d="M407.70,852.10h.01 M414.22,852.10h.01 M420.74,852.10h.01 M427.26,852.10h.01 M433.78,852.10h.01 M440.30,852.10h.01 M446.82,852.10h.01 M453.34,852.10h.01 M459.86,852.10h.01" class="bd bb" stroke="#4472c4"/>
<path d="M407.70,874.40h.01 M414.22,874.40h.01 M420.74,874.40h.01 M427.26,874.40h.01 M433.78,874.40h.01 M440.30,874.40h.01 M446.82,874.40h.01 M453.34,874.40h.01 M459.86,874.40h.01" class="bd bb" stroke="#4472c4"/>
</g>
</svg>
</body></html>
